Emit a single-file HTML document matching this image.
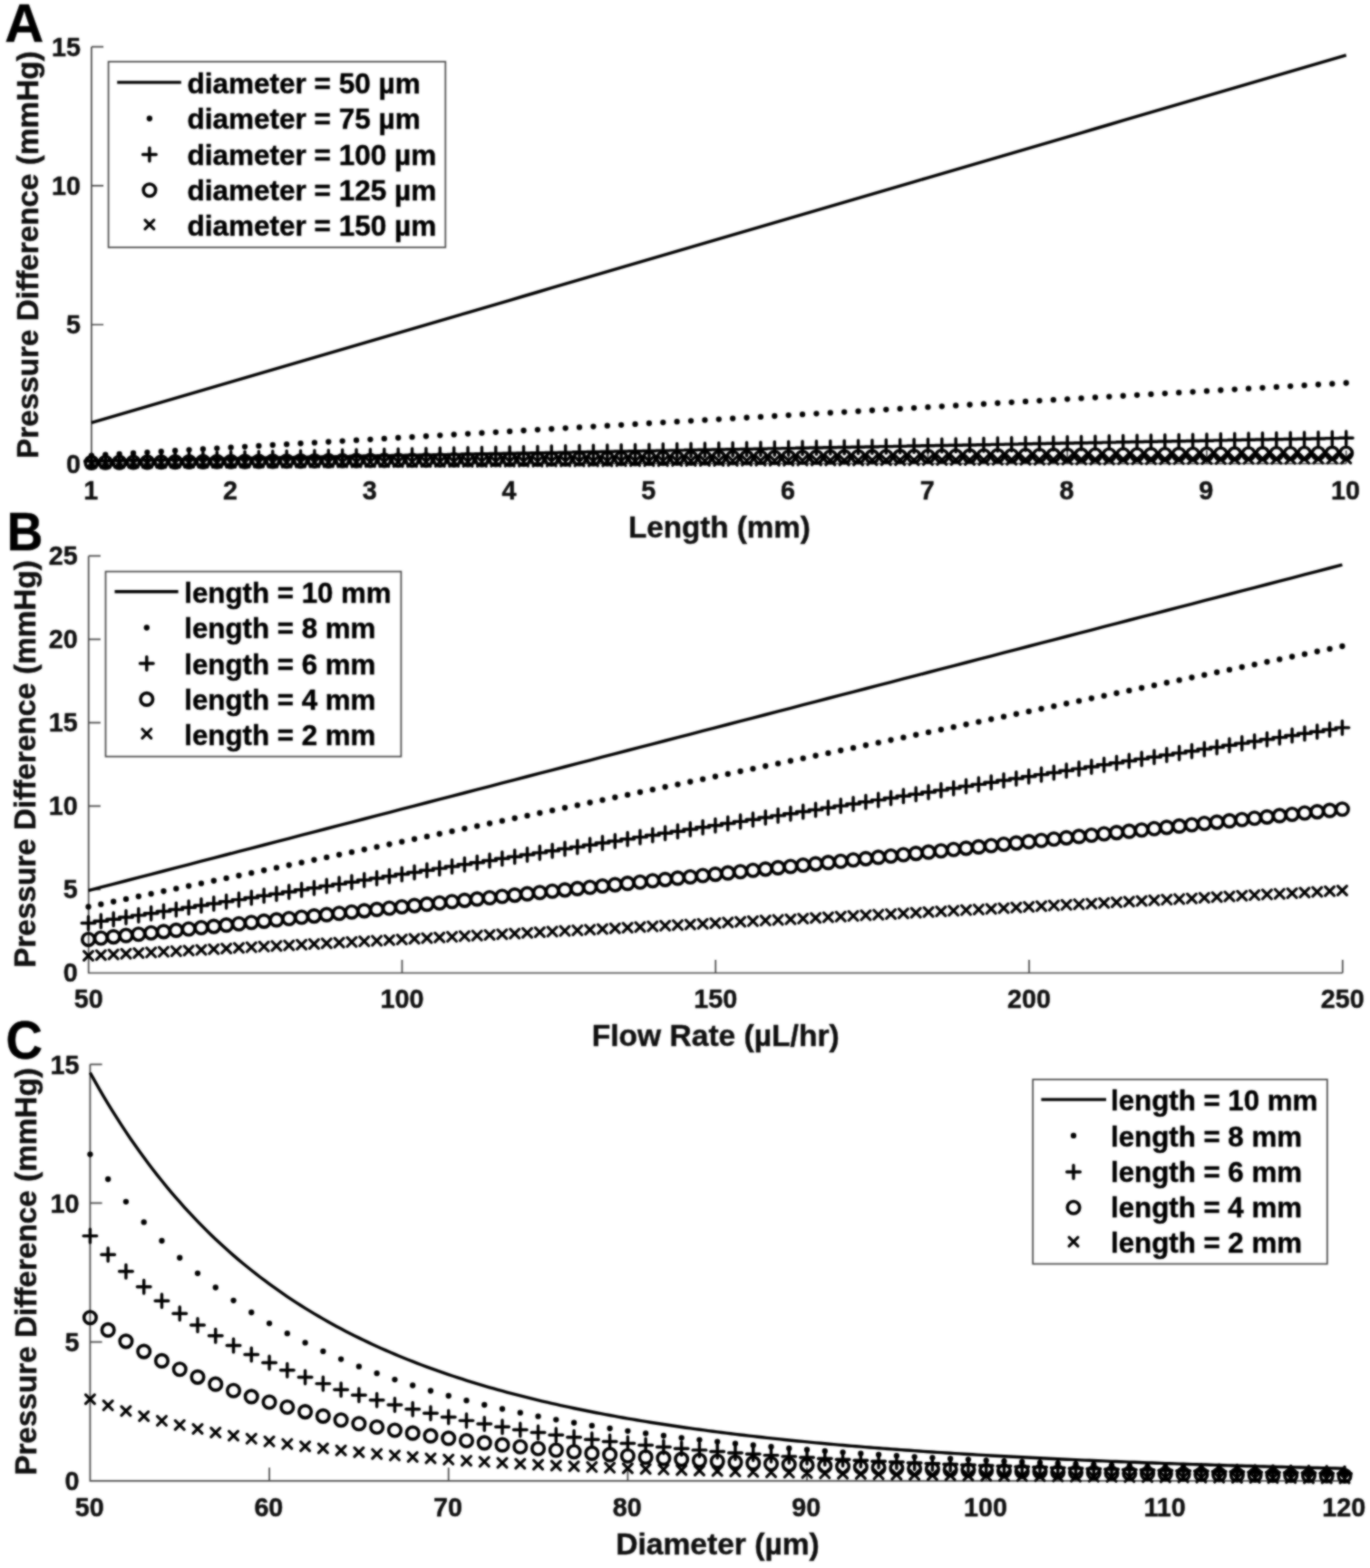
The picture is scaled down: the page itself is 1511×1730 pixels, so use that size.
<!DOCTYPE html>
<html lang="en"><head><meta charset="utf-8"><title>Pressure difference plots</title>
<style>
html,body{margin:0;padding:0;background:#fff}
svg{display:block}
text{font-family:"Liberation Sans",sans-serif;font-weight:bold;fill:#101010;stroke:#101010;stroke-width:0.45;stroke-linejoin:round}
text.k{fill:#000;stroke:#000}
</style></head><body>
<svg width="1511" height="1730" viewBox="0 0 1511 1730">
<defs><filter id="soft" x="0" y="0" width="1" height="1" filterUnits="objectBoundingBox" color-interpolation-filters="sRGB"><feGaussianBlur in="SourceGraphic" stdDeviation="0.85" result="b"/><feComposite in="SourceGraphic" in2="b" operator="arithmetic" k1="0" k2="0.2" k3="0.8" k4="0"/></filter></defs>
<g filter="url(#soft)">
<rect width="1511" height="1730" fill="#fff"/>
<path d="M100.9 51.7V511.5H1484.7M100.9 511.5h13.2M100.9 358.23h13.2M100.9 204.97h13.2M100.9 51.7h13.2M100.9 511.5v-14.5M254.66 511.5v-14.5M408.41 511.5v-14.5M562.17 511.5v-14.5M715.92 511.5v-14.5M869.68 511.5v-14.5M1023.43 511.5v-14.5M1177.19 511.5v-14.5M1330.94 511.5v-14.5M1484.7 511.5v-14.5" fill="none" stroke="#484848" stroke-width="1.7"/>
<text x="0" y="0" font-size="28.7" text-anchor="end" transform="translate(88.9 521.7) scale(1.0 1.03)">0</text>
<text x="0" y="0" font-size="28.7" text-anchor="end" transform="translate(88.9 368.43) scale(1.0 1.03)">5</text>
<text x="0" y="0" font-size="28.7" text-anchor="end" transform="translate(88.9 215.17) scale(1.0 1.03)">10</text>
<text x="0" y="0" font-size="28.7" text-anchor="end" transform="translate(88.9 61.9) scale(1.0 1.03)">15</text>
<text x="0" y="0" font-size="28.7" text-anchor="middle" transform="translate(100.1 551) scale(1.0 1.03)">1</text>
<text x="0" y="0" font-size="28.7" text-anchor="middle" transform="translate(253.86 551) scale(1.0 1.03)">2</text>
<text x="0" y="0" font-size="28.7" text-anchor="middle" transform="translate(407.61 551) scale(1.0 1.03)">3</text>
<text x="0" y="0" font-size="28.7" text-anchor="middle" transform="translate(561.37 551) scale(1.0 1.03)">4</text>
<text x="0" y="0" font-size="28.7" text-anchor="middle" transform="translate(715.12 551) scale(1.0 1.03)">5</text>
<text x="0" y="0" font-size="28.7" text-anchor="middle" transform="translate(868.88 551) scale(1.0 1.03)">6</text>
<text x="0" y="0" font-size="28.7" text-anchor="middle" transform="translate(1022.63 551) scale(1.0 1.03)">7</text>
<text x="0" y="0" font-size="28.7" text-anchor="middle" transform="translate(1176.39 551) scale(1.0 1.03)">8</text>
<text x="0" y="0" font-size="28.7" text-anchor="middle" transform="translate(1330.14 551) scale(1.0 1.03)">9</text>
<text x="0" y="0" font-size="28.7" text-anchor="middle" transform="translate(1483.9 551) scale(1.0 1.03)">10</text>
<text x="793.4" y="593.3" font-size="33.2" text-anchor="middle">Length (mm)</text>
<text x="0" y="0" font-size="33.3" text-anchor="middle" transform="translate(41.5 281.2) rotate(-90)">Pressure Difference (mmHg)</text>
<text x="5.3" y="46.3" font-size="59.5" text-anchor="start" class="k">A</text>
<path d="M100.9 466.44L116.28 461.93L131.65 457.43L147.03 452.92L162.4 448.42L177.78 443.91L193.15 439.4L208.53 434.9L223.9 430.39L239.28 425.89L254.66 421.38L270.03 416.87L285.41 412.37L300.78 407.86L316.16 403.36L331.53 398.85L346.91 394.34L362.28 389.84L377.66 385.33L393.04 380.82L408.41 376.32L423.79 371.81L439.16 367.31L454.54 362.8L469.91 358.29L485.29 353.79L500.66 349.28L516.04 344.78L531.42 340.27L546.79 335.76L562.17 331.26L577.54 326.75L592.92 322.25L608.29 317.74L623.67 313.23L639.04 308.73L654.42 304.22L669.8 299.72L685.17 295.21L700.55 290.7L715.92 286.2L731.3 281.69L746.67 277.19L762.05 272.68L777.42 268.17L792.8 263.67L808.18 259.16L823.55 254.66L838.93 250.15L854.3 245.64L869.68 241.14L885.05 236.63L900.43 232.13L915.8 227.62L931.18 223.11L946.56 218.61L961.93 214.1L977.31 209.6L992.68 205.09L1008.06 200.58L1023.43 196.08L1038.81 191.57L1054.18 187.07L1069.56 182.56L1084.94 178.05L1100.31 173.55L1115.69 169.04L1131.06 164.53L1146.44 160.03L1161.81 155.52L1177.19 151.02L1192.56 146.51L1207.94 142L1223.32 137.5L1238.69 132.99L1254.07 128.49L1269.44 123.98L1284.82 119.47L1300.19 114.97L1315.57 110.46L1330.94 105.96L1346.32 101.45L1361.7 96.94L1377.07 92.44L1392.45 87.93L1407.82 83.43L1423.2 78.92L1438.57 74.41L1453.95 69.91L1469.32 65.4L1484.7 60.9" fill="none" stroke="#000" stroke-width="3.4" stroke-linejoin="round"/>
<path d="M97.75 502.6a3.15 3.15 0 1 0 6.3 0a3.15 3.15 0 1 0 -6.3 0zM113.13 501.71a3.15 3.15 0 1 0 6.3 0a3.15 3.15 0 1 0 -6.3 0zM128.5 500.82a3.15 3.15 0 1 0 6.3 0a3.15 3.15 0 1 0 -6.3 0zM143.88 499.93a3.15 3.15 0 1 0 6.3 0a3.15 3.15 0 1 0 -6.3 0zM159.25 499.04a3.15 3.15 0 1 0 6.3 0a3.15 3.15 0 1 0 -6.3 0zM174.63 498.15a3.15 3.15 0 1 0 6.3 0a3.15 3.15 0 1 0 -6.3 0zM190 497.26a3.15 3.15 0 1 0 6.3 0a3.15 3.15 0 1 0 -6.3 0zM205.38 496.37a3.15 3.15 0 1 0 6.3 0a3.15 3.15 0 1 0 -6.3 0zM220.75 495.48a3.15 3.15 0 1 0 6.3 0a3.15 3.15 0 1 0 -6.3 0zM236.13 494.59a3.15 3.15 0 1 0 6.3 0a3.15 3.15 0 1 0 -6.3 0zM251.51 493.7a3.15 3.15 0 1 0 6.3 0a3.15 3.15 0 1 0 -6.3 0zM266.88 492.81a3.15 3.15 0 1 0 6.3 0a3.15 3.15 0 1 0 -6.3 0zM282.26 491.92a3.15 3.15 0 1 0 6.3 0a3.15 3.15 0 1 0 -6.3 0zM297.63 491.03a3.15 3.15 0 1 0 6.3 0a3.15 3.15 0 1 0 -6.3 0zM313.01 490.14a3.15 3.15 0 1 0 6.3 0a3.15 3.15 0 1 0 -6.3 0zM328.38 489.25a3.15 3.15 0 1 0 6.3 0a3.15 3.15 0 1 0 -6.3 0zM343.76 488.36a3.15 3.15 0 1 0 6.3 0a3.15 3.15 0 1 0 -6.3 0zM359.13 487.47a3.15 3.15 0 1 0 6.3 0a3.15 3.15 0 1 0 -6.3 0zM374.51 486.58a3.15 3.15 0 1 0 6.3 0a3.15 3.15 0 1 0 -6.3 0zM389.89 485.69a3.15 3.15 0 1 0 6.3 0a3.15 3.15 0 1 0 -6.3 0zM405.26 484.8a3.15 3.15 0 1 0 6.3 0a3.15 3.15 0 1 0 -6.3 0zM420.64 483.91a3.15 3.15 0 1 0 6.3 0a3.15 3.15 0 1 0 -6.3 0zM436.01 483.02a3.15 3.15 0 1 0 6.3 0a3.15 3.15 0 1 0 -6.3 0zM451.39 482.13a3.15 3.15 0 1 0 6.3 0a3.15 3.15 0 1 0 -6.3 0zM466.76 481.24a3.15 3.15 0 1 0 6.3 0a3.15 3.15 0 1 0 -6.3 0zM482.14 480.35a3.15 3.15 0 1 0 6.3 0a3.15 3.15 0 1 0 -6.3 0zM497.51 479.46a3.15 3.15 0 1 0 6.3 0a3.15 3.15 0 1 0 -6.3 0zM512.89 478.57a3.15 3.15 0 1 0 6.3 0a3.15 3.15 0 1 0 -6.3 0zM528.27 477.68a3.15 3.15 0 1 0 6.3 0a3.15 3.15 0 1 0 -6.3 0zM543.64 476.79a3.15 3.15 0 1 0 6.3 0a3.15 3.15 0 1 0 -6.3 0zM559.02 475.9a3.15 3.15 0 1 0 6.3 0a3.15 3.15 0 1 0 -6.3 0zM574.39 475.01a3.15 3.15 0 1 0 6.3 0a3.15 3.15 0 1 0 -6.3 0zM589.77 474.12a3.15 3.15 0 1 0 6.3 0a3.15 3.15 0 1 0 -6.3 0zM605.14 473.23a3.15 3.15 0 1 0 6.3 0a3.15 3.15 0 1 0 -6.3 0zM620.52 472.34a3.15 3.15 0 1 0 6.3 0a3.15 3.15 0 1 0 -6.3 0zM635.89 471.45a3.15 3.15 0 1 0 6.3 0a3.15 3.15 0 1 0 -6.3 0zM651.27 470.56a3.15 3.15 0 1 0 6.3 0a3.15 3.15 0 1 0 -6.3 0zM666.65 469.67a3.15 3.15 0 1 0 6.3 0a3.15 3.15 0 1 0 -6.3 0zM682.02 468.78a3.15 3.15 0 1 0 6.3 0a3.15 3.15 0 1 0 -6.3 0zM697.4 467.89a3.15 3.15 0 1 0 6.3 0a3.15 3.15 0 1 0 -6.3 0zM712.77 467a3.15 3.15 0 1 0 6.3 0a3.15 3.15 0 1 0 -6.3 0zM728.15 466.11a3.15 3.15 0 1 0 6.3 0a3.15 3.15 0 1 0 -6.3 0zM743.52 465.22a3.15 3.15 0 1 0 6.3 0a3.15 3.15 0 1 0 -6.3 0zM758.9 464.33a3.15 3.15 0 1 0 6.3 0a3.15 3.15 0 1 0 -6.3 0zM774.27 463.44a3.15 3.15 0 1 0 6.3 0a3.15 3.15 0 1 0 -6.3 0zM789.65 462.55a3.15 3.15 0 1 0 6.3 0a3.15 3.15 0 1 0 -6.3 0zM805.03 461.66a3.15 3.15 0 1 0 6.3 0a3.15 3.15 0 1 0 -6.3 0zM820.4 460.77a3.15 3.15 0 1 0 6.3 0a3.15 3.15 0 1 0 -6.3 0zM835.78 459.88a3.15 3.15 0 1 0 6.3 0a3.15 3.15 0 1 0 -6.3 0zM851.15 458.99a3.15 3.15 0 1 0 6.3 0a3.15 3.15 0 1 0 -6.3 0zM866.53 458.1a3.15 3.15 0 1 0 6.3 0a3.15 3.15 0 1 0 -6.3 0zM881.9 457.2a3.15 3.15 0 1 0 6.3 0a3.15 3.15 0 1 0 -6.3 0zM897.28 456.31a3.15 3.15 0 1 0 6.3 0a3.15 3.15 0 1 0 -6.3 0zM912.65 455.42a3.15 3.15 0 1 0 6.3 0a3.15 3.15 0 1 0 -6.3 0zM928.03 454.53a3.15 3.15 0 1 0 6.3 0a3.15 3.15 0 1 0 -6.3 0zM943.41 453.64a3.15 3.15 0 1 0 6.3 0a3.15 3.15 0 1 0 -6.3 0zM958.78 452.75a3.15 3.15 0 1 0 6.3 0a3.15 3.15 0 1 0 -6.3 0zM974.16 451.86a3.15 3.15 0 1 0 6.3 0a3.15 3.15 0 1 0 -6.3 0zM989.53 450.97a3.15 3.15 0 1 0 6.3 0a3.15 3.15 0 1 0 -6.3 0zM1004.91 450.08a3.15 3.15 0 1 0 6.3 0a3.15 3.15 0 1 0 -6.3 0zM1020.28 449.19a3.15 3.15 0 1 0 6.3 0a3.15 3.15 0 1 0 -6.3 0zM1035.66 448.3a3.15 3.15 0 1 0 6.3 0a3.15 3.15 0 1 0 -6.3 0zM1051.03 447.41a3.15 3.15 0 1 0 6.3 0a3.15 3.15 0 1 0 -6.3 0zM1066.41 446.52a3.15 3.15 0 1 0 6.3 0a3.15 3.15 0 1 0 -6.3 0zM1081.79 445.63a3.15 3.15 0 1 0 6.3 0a3.15 3.15 0 1 0 -6.3 0zM1097.16 444.74a3.15 3.15 0 1 0 6.3 0a3.15 3.15 0 1 0 -6.3 0zM1112.54 443.85a3.15 3.15 0 1 0 6.3 0a3.15 3.15 0 1 0 -6.3 0zM1127.91 442.96a3.15 3.15 0 1 0 6.3 0a3.15 3.15 0 1 0 -6.3 0zM1143.29 442.07a3.15 3.15 0 1 0 6.3 0a3.15 3.15 0 1 0 -6.3 0zM1158.66 441.18a3.15 3.15 0 1 0 6.3 0a3.15 3.15 0 1 0 -6.3 0zM1174.04 440.29a3.15 3.15 0 1 0 6.3 0a3.15 3.15 0 1 0 -6.3 0zM1189.41 439.4a3.15 3.15 0 1 0 6.3 0a3.15 3.15 0 1 0 -6.3 0zM1204.79 438.51a3.15 3.15 0 1 0 6.3 0a3.15 3.15 0 1 0 -6.3 0zM1220.17 437.62a3.15 3.15 0 1 0 6.3 0a3.15 3.15 0 1 0 -6.3 0zM1235.54 436.73a3.15 3.15 0 1 0 6.3 0a3.15 3.15 0 1 0 -6.3 0zM1250.92 435.84a3.15 3.15 0 1 0 6.3 0a3.15 3.15 0 1 0 -6.3 0zM1266.29 434.95a3.15 3.15 0 1 0 6.3 0a3.15 3.15 0 1 0 -6.3 0zM1281.67 434.06a3.15 3.15 0 1 0 6.3 0a3.15 3.15 0 1 0 -6.3 0zM1297.04 433.17a3.15 3.15 0 1 0 6.3 0a3.15 3.15 0 1 0 -6.3 0zM1312.42 432.28a3.15 3.15 0 1 0 6.3 0a3.15 3.15 0 1 0 -6.3 0zM1327.79 431.39a3.15 3.15 0 1 0 6.3 0a3.15 3.15 0 1 0 -6.3 0zM1343.17 430.5a3.15 3.15 0 1 0 6.3 0a3.15 3.15 0 1 0 -6.3 0zM1358.55 429.61a3.15 3.15 0 1 0 6.3 0a3.15 3.15 0 1 0 -6.3 0zM1373.92 428.72a3.15 3.15 0 1 0 6.3 0a3.15 3.15 0 1 0 -6.3 0zM1389.3 427.83a3.15 3.15 0 1 0 6.3 0a3.15 3.15 0 1 0 -6.3 0zM1404.67 426.94a3.15 3.15 0 1 0 6.3 0a3.15 3.15 0 1 0 -6.3 0zM1420.05 426.05a3.15 3.15 0 1 0 6.3 0a3.15 3.15 0 1 0 -6.3 0zM1435.42 425.16a3.15 3.15 0 1 0 6.3 0a3.15 3.15 0 1 0 -6.3 0zM1450.8 424.27a3.15 3.15 0 1 0 6.3 0a3.15 3.15 0 1 0 -6.3 0zM1466.17 423.38a3.15 3.15 0 1 0 6.3 0a3.15 3.15 0 1 0 -6.3 0zM1481.55 422.49a3.15 3.15 0 1 0 6.3 0a3.15 3.15 0 1 0 -6.3 0z" fill="#000"/>
<path d="M93.6 508.68h14.6M100.9 501.38v14.6M108.98 508.4h14.6M116.28 501.1v14.6M124.35 508.12h14.6M131.65 500.82v14.6M139.73 507.84h14.6M147.03 500.54v14.6M155.1 507.56h14.6M162.4 500.26v14.6M170.48 507.28h14.6M177.78 499.98v14.6M185.85 506.99h14.6M193.15 499.69v14.6M201.23 506.71h14.6M208.53 499.41v14.6M216.6 506.43h14.6M223.9 499.13v14.6M231.98 506.15h14.6M239.28 498.85v14.6M247.36 505.87h14.6M254.66 498.57v14.6M262.73 505.59h14.6M270.03 498.29v14.6M278.11 505.3h14.6M285.41 498v14.6M293.48 505.02h14.6M300.78 497.72v14.6M308.86 504.74h14.6M316.16 497.44v14.6M324.23 504.46h14.6M331.53 497.16v14.6M339.61 504.18h14.6M346.91 496.88v14.6M354.98 503.9h14.6M362.28 496.6v14.6M370.36 503.61h14.6M377.66 496.31v14.6M385.74 503.33h14.6M393.04 496.03v14.6M401.11 503.05h14.6M408.41 495.75v14.6M416.49 502.77h14.6M423.79 495.47v14.6M431.86 502.49h14.6M439.16 495.19v14.6M447.24 502.21h14.6M454.54 494.91v14.6M462.61 501.92h14.6M469.91 494.62v14.6M477.99 501.64h14.6M485.29 494.34v14.6M493.36 501.36h14.6M500.66 494.06v14.6M508.74 501.08h14.6M516.04 493.78v14.6M524.12 500.8h14.6M531.42 493.5v14.6M539.49 500.52h14.6M546.79 493.22v14.6M554.87 500.23h14.6M562.17 492.93v14.6M570.24 499.95h14.6M577.54 492.65v14.6M585.62 499.67h14.6M592.92 492.37v14.6M600.99 499.39h14.6M608.29 492.09v14.6M616.37 499.11h14.6M623.67 491.81v14.6M631.74 498.83h14.6M639.04 491.53v14.6M647.12 498.55h14.6M654.42 491.25v14.6M662.5 498.26h14.6M669.8 490.96v14.6M677.87 497.98h14.6M685.17 490.68v14.6M693.25 497.7h14.6M700.55 490.4v14.6M708.62 497.42h14.6M715.92 490.12v14.6M724 497.14h14.6M731.3 489.84v14.6M739.37 496.86h14.6M746.67 489.56v14.6M754.75 496.57h14.6M762.05 489.27v14.6M770.12 496.29h14.6M777.42 488.99v14.6M785.5 496.01h14.6M792.8 488.71v14.6M800.88 495.73h14.6M808.18 488.43v14.6M816.25 495.45h14.6M823.55 488.15v14.6M831.63 495.17h14.6M838.93 487.87v14.6M847 494.88h14.6M854.3 487.58v14.6M862.38 494.6h14.6M869.68 487.3v14.6M877.75 494.32h14.6M885.05 487.02v14.6M893.13 494.04h14.6M900.43 486.74v14.6M908.5 493.76h14.6M915.8 486.46v14.6M923.88 493.48h14.6M931.18 486.18v14.6M939.26 493.19h14.6M946.56 485.89v14.6M954.63 492.91h14.6M961.93 485.61v14.6M970.01 492.63h14.6M977.31 485.33v14.6M985.38 492.35h14.6M992.68 485.05v14.6M1000.76 492.07h14.6M1008.06 484.77v14.6M1016.13 491.79h14.6M1023.43 484.49v14.6M1031.51 491.5h14.6M1038.81 484.2v14.6M1046.88 491.22h14.6M1054.18 483.92v14.6M1062.26 490.94h14.6M1069.56 483.64v14.6M1077.64 490.66h14.6M1084.94 483.36v14.6M1093.01 490.38h14.6M1100.31 483.08v14.6M1108.39 490.1h14.6M1115.69 482.8v14.6M1123.76 489.81h14.6M1131.06 482.51v14.6M1139.14 489.53h14.6M1146.44 482.23v14.6M1154.51 489.25h14.6M1161.81 481.95v14.6M1169.89 488.97h14.6M1177.19 481.67v14.6M1185.26 488.69h14.6M1192.56 481.39v14.6M1200.64 488.41h14.6M1207.94 481.11v14.6M1216.02 488.12h14.6M1223.32 480.82v14.6M1231.39 487.84h14.6M1238.69 480.54v14.6M1246.77 487.56h14.6M1254.07 480.26v14.6M1262.14 487.28h14.6M1269.44 479.98v14.6M1277.52 487h14.6M1284.82 479.7v14.6M1292.89 486.72h14.6M1300.19 479.42v14.6M1308.27 486.44h14.6M1315.57 479.14v14.6M1323.64 486.15h14.6M1330.94 478.85v14.6M1339.02 485.87h14.6M1346.32 478.57v14.6M1354.4 485.59h14.6M1361.7 478.29v14.6M1369.77 485.31h14.6M1377.07 478.01v14.6M1385.15 485.03h14.6M1392.45 477.73v14.6M1400.52 484.75h14.6M1407.82 477.45v14.6M1415.9 484.46h14.6M1423.2 477.16v14.6M1431.27 484.18h14.6M1438.57 476.88v14.6M1446.65 483.9h14.6M1453.95 476.6v14.6M1462.02 483.62h14.6M1469.32 476.32v14.6M1477.4 483.34h14.6M1484.7 476.04v14.6" fill="none" stroke="#000" stroke-width="3.45" stroke-linecap="round"/>
<path d="M94.15 510.35a6.75 6.75 0 1 0 13.5 0a6.75 6.75 0 1 0 -13.5 0zM109.53 510.23a6.75 6.75 0 1 0 13.5 0a6.75 6.75 0 1 0 -13.5 0zM124.9 510.12a6.75 6.75 0 1 0 13.5 0a6.75 6.75 0 1 0 -13.5 0zM140.28 510a6.75 6.75 0 1 0 13.5 0a6.75 6.75 0 1 0 -13.5 0zM155.65 509.89a6.75 6.75 0 1 0 13.5 0a6.75 6.75 0 1 0 -13.5 0zM171.03 509.77a6.75 6.75 0 1 0 13.5 0a6.75 6.75 0 1 0 -13.5 0zM186.4 509.65a6.75 6.75 0 1 0 13.5 0a6.75 6.75 0 1 0 -13.5 0zM201.78 509.54a6.75 6.75 0 1 0 13.5 0a6.75 6.75 0 1 0 -13.5 0zM217.15 509.42a6.75 6.75 0 1 0 13.5 0a6.75 6.75 0 1 0 -13.5 0zM232.53 509.31a6.75 6.75 0 1 0 13.5 0a6.75 6.75 0 1 0 -13.5 0zM247.91 509.19a6.75 6.75 0 1 0 13.5 0a6.75 6.75 0 1 0 -13.5 0zM263.28 509.08a6.75 6.75 0 1 0 13.5 0a6.75 6.75 0 1 0 -13.5 0zM278.66 508.96a6.75 6.75 0 1 0 13.5 0a6.75 6.75 0 1 0 -13.5 0zM294.03 508.85a6.75 6.75 0 1 0 13.5 0a6.75 6.75 0 1 0 -13.5 0zM309.41 508.73a6.75 6.75 0 1 0 13.5 0a6.75 6.75 0 1 0 -13.5 0zM324.78 508.62a6.75 6.75 0 1 0 13.5 0a6.75 6.75 0 1 0 -13.5 0zM340.16 508.5a6.75 6.75 0 1 0 13.5 0a6.75 6.75 0 1 0 -13.5 0zM355.53 508.39a6.75 6.75 0 1 0 13.5 0a6.75 6.75 0 1 0 -13.5 0zM370.91 508.27a6.75 6.75 0 1 0 13.5 0a6.75 6.75 0 1 0 -13.5 0zM386.29 508.15a6.75 6.75 0 1 0 13.5 0a6.75 6.75 0 1 0 -13.5 0zM401.66 508.04a6.75 6.75 0 1 0 13.5 0a6.75 6.75 0 1 0 -13.5 0zM417.04 507.92a6.75 6.75 0 1 0 13.5 0a6.75 6.75 0 1 0 -13.5 0zM432.41 507.81a6.75 6.75 0 1 0 13.5 0a6.75 6.75 0 1 0 -13.5 0zM447.79 507.69a6.75 6.75 0 1 0 13.5 0a6.75 6.75 0 1 0 -13.5 0zM463.16 507.58a6.75 6.75 0 1 0 13.5 0a6.75 6.75 0 1 0 -13.5 0zM478.54 507.46a6.75 6.75 0 1 0 13.5 0a6.75 6.75 0 1 0 -13.5 0zM493.91 507.35a6.75 6.75 0 1 0 13.5 0a6.75 6.75 0 1 0 -13.5 0zM509.29 507.23a6.75 6.75 0 1 0 13.5 0a6.75 6.75 0 1 0 -13.5 0zM524.67 507.12a6.75 6.75 0 1 0 13.5 0a6.75 6.75 0 1 0 -13.5 0zM540.04 507a6.75 6.75 0 1 0 13.5 0a6.75 6.75 0 1 0 -13.5 0zM555.42 506.89a6.75 6.75 0 1 0 13.5 0a6.75 6.75 0 1 0 -13.5 0zM570.79 506.77a6.75 6.75 0 1 0 13.5 0a6.75 6.75 0 1 0 -13.5 0zM586.17 506.66a6.75 6.75 0 1 0 13.5 0a6.75 6.75 0 1 0 -13.5 0zM601.54 506.54a6.75 6.75 0 1 0 13.5 0a6.75 6.75 0 1 0 -13.5 0zM616.92 506.42a6.75 6.75 0 1 0 13.5 0a6.75 6.75 0 1 0 -13.5 0zM632.29 506.31a6.75 6.75 0 1 0 13.5 0a6.75 6.75 0 1 0 -13.5 0zM647.67 506.19a6.75 6.75 0 1 0 13.5 0a6.75 6.75 0 1 0 -13.5 0zM663.05 506.08a6.75 6.75 0 1 0 13.5 0a6.75 6.75 0 1 0 -13.5 0zM678.42 505.96a6.75 6.75 0 1 0 13.5 0a6.75 6.75 0 1 0 -13.5 0zM693.8 505.85a6.75 6.75 0 1 0 13.5 0a6.75 6.75 0 1 0 -13.5 0zM709.17 505.73a6.75 6.75 0 1 0 13.5 0a6.75 6.75 0 1 0 -13.5 0zM724.55 505.62a6.75 6.75 0 1 0 13.5 0a6.75 6.75 0 1 0 -13.5 0zM739.92 505.5a6.75 6.75 0 1 0 13.5 0a6.75 6.75 0 1 0 -13.5 0zM755.3 505.39a6.75 6.75 0 1 0 13.5 0a6.75 6.75 0 1 0 -13.5 0zM770.67 505.27a6.75 6.75 0 1 0 13.5 0a6.75 6.75 0 1 0 -13.5 0zM786.05 505.16a6.75 6.75 0 1 0 13.5 0a6.75 6.75 0 1 0 -13.5 0zM801.43 505.04a6.75 6.75 0 1 0 13.5 0a6.75 6.75 0 1 0 -13.5 0zM816.8 504.92a6.75 6.75 0 1 0 13.5 0a6.75 6.75 0 1 0 -13.5 0zM832.18 504.81a6.75 6.75 0 1 0 13.5 0a6.75 6.75 0 1 0 -13.5 0zM847.55 504.69a6.75 6.75 0 1 0 13.5 0a6.75 6.75 0 1 0 -13.5 0zM862.93 504.58a6.75 6.75 0 1 0 13.5 0a6.75 6.75 0 1 0 -13.5 0zM878.3 504.46a6.75 6.75 0 1 0 13.5 0a6.75 6.75 0 1 0 -13.5 0zM893.68 504.35a6.75 6.75 0 1 0 13.5 0a6.75 6.75 0 1 0 -13.5 0zM909.05 504.23a6.75 6.75 0 1 0 13.5 0a6.75 6.75 0 1 0 -13.5 0zM924.43 504.12a6.75 6.75 0 1 0 13.5 0a6.75 6.75 0 1 0 -13.5 0zM939.81 504a6.75 6.75 0 1 0 13.5 0a6.75 6.75 0 1 0 -13.5 0zM955.18 503.89a6.75 6.75 0 1 0 13.5 0a6.75 6.75 0 1 0 -13.5 0zM970.56 503.77a6.75 6.75 0 1 0 13.5 0a6.75 6.75 0 1 0 -13.5 0zM985.93 503.66a6.75 6.75 0 1 0 13.5 0a6.75 6.75 0 1 0 -13.5 0zM1001.31 503.54a6.75 6.75 0 1 0 13.5 0a6.75 6.75 0 1 0 -13.5 0zM1016.68 503.43a6.75 6.75 0 1 0 13.5 0a6.75 6.75 0 1 0 -13.5 0zM1032.06 503.31a6.75 6.75 0 1 0 13.5 0a6.75 6.75 0 1 0 -13.5 0zM1047.43 503.19a6.75 6.75 0 1 0 13.5 0a6.75 6.75 0 1 0 -13.5 0zM1062.81 503.08a6.75 6.75 0 1 0 13.5 0a6.75 6.75 0 1 0 -13.5 0zM1078.19 502.96a6.75 6.75 0 1 0 13.5 0a6.75 6.75 0 1 0 -13.5 0zM1093.56 502.85a6.75 6.75 0 1 0 13.5 0a6.75 6.75 0 1 0 -13.5 0zM1108.94 502.73a6.75 6.75 0 1 0 13.5 0a6.75 6.75 0 1 0 -13.5 0zM1124.31 502.62a6.75 6.75 0 1 0 13.5 0a6.75 6.75 0 1 0 -13.5 0zM1139.69 502.5a6.75 6.75 0 1 0 13.5 0a6.75 6.75 0 1 0 -13.5 0zM1155.06 502.39a6.75 6.75 0 1 0 13.5 0a6.75 6.75 0 1 0 -13.5 0zM1170.44 502.27a6.75 6.75 0 1 0 13.5 0a6.75 6.75 0 1 0 -13.5 0zM1185.81 502.16a6.75 6.75 0 1 0 13.5 0a6.75 6.75 0 1 0 -13.5 0zM1201.19 502.04a6.75 6.75 0 1 0 13.5 0a6.75 6.75 0 1 0 -13.5 0zM1216.57 501.93a6.75 6.75 0 1 0 13.5 0a6.75 6.75 0 1 0 -13.5 0zM1231.94 501.81a6.75 6.75 0 1 0 13.5 0a6.75 6.75 0 1 0 -13.5 0zM1247.32 501.69a6.75 6.75 0 1 0 13.5 0a6.75 6.75 0 1 0 -13.5 0zM1262.69 501.58a6.75 6.75 0 1 0 13.5 0a6.75 6.75 0 1 0 -13.5 0zM1278.07 501.46a6.75 6.75 0 1 0 13.5 0a6.75 6.75 0 1 0 -13.5 0zM1293.44 501.35a6.75 6.75 0 1 0 13.5 0a6.75 6.75 0 1 0 -13.5 0zM1308.82 501.23a6.75 6.75 0 1 0 13.5 0a6.75 6.75 0 1 0 -13.5 0zM1324.19 501.12a6.75 6.75 0 1 0 13.5 0a6.75 6.75 0 1 0 -13.5 0zM1339.57 501a6.75 6.75 0 1 0 13.5 0a6.75 6.75 0 1 0 -13.5 0zM1354.95 500.89a6.75 6.75 0 1 0 13.5 0a6.75 6.75 0 1 0 -13.5 0zM1370.32 500.77a6.75 6.75 0 1 0 13.5 0a6.75 6.75 0 1 0 -13.5 0zM1385.7 500.66a6.75 6.75 0 1 0 13.5 0a6.75 6.75 0 1 0 -13.5 0zM1401.07 500.54a6.75 6.75 0 1 0 13.5 0a6.75 6.75 0 1 0 -13.5 0zM1416.45 500.43a6.75 6.75 0 1 0 13.5 0a6.75 6.75 0 1 0 -13.5 0zM1431.82 500.31a6.75 6.75 0 1 0 13.5 0a6.75 6.75 0 1 0 -13.5 0zM1447.2 500.2a6.75 6.75 0 1 0 13.5 0a6.75 6.75 0 1 0 -13.5 0zM1462.57 500.08a6.75 6.75 0 1 0 13.5 0a6.75 6.75 0 1 0 -13.5 0zM1477.95 499.96a6.75 6.75 0 1 0 13.5 0a6.75 6.75 0 1 0 -13.5 0z" fill="none" stroke="#000" stroke-width="3.6"/>
<path d="M96 506.04l9.8 9.8M96 515.84l9.8 -9.8M111.38 505.99l9.8 9.8M111.38 515.79l9.8 -9.8M126.75 505.93l9.8 9.8M126.75 515.73l9.8 -9.8M142.13 505.88l9.8 9.8M142.13 515.68l9.8 -9.8M157.5 505.82l9.8 9.8M157.5 515.62l9.8 -9.8M172.88 505.77l9.8 9.8M172.88 515.57l9.8 -9.8M188.25 505.71l9.8 9.8M188.25 515.51l9.8 -9.8M203.63 505.65l9.8 9.8M203.63 515.45l9.8 -9.8M219 505.6l9.8 9.8M219 515.4l9.8 -9.8M234.38 505.54l9.8 9.8M234.38 515.34l9.8 -9.8M249.76 505.49l9.8 9.8M249.76 515.29l9.8 -9.8M265.13 505.43l9.8 9.8M265.13 515.23l9.8 -9.8M280.51 505.38l9.8 9.8M280.51 515.18l9.8 -9.8M295.88 505.32l9.8 9.8M295.88 515.12l9.8 -9.8M311.26 505.26l9.8 9.8M311.26 515.06l9.8 -9.8M326.63 505.21l9.8 9.8M326.63 515.01l9.8 -9.8M342.01 505.15l9.8 9.8M342.01 514.95l9.8 -9.8M357.38 505.1l9.8 9.8M357.38 514.9l9.8 -9.8M372.76 505.04l9.8 9.8M372.76 514.84l9.8 -9.8M388.14 504.99l9.8 9.8M388.14 514.79l9.8 -9.8M403.51 504.93l9.8 9.8M403.51 514.73l9.8 -9.8M418.89 504.88l9.8 9.8M418.89 514.68l9.8 -9.8M434.26 504.82l9.8 9.8M434.26 514.62l9.8 -9.8M449.64 504.76l9.8 9.8M449.64 514.56l9.8 -9.8M465.01 504.71l9.8 9.8M465.01 514.51l9.8 -9.8M480.39 504.65l9.8 9.8M480.39 514.45l9.8 -9.8M495.76 504.6l9.8 9.8M495.76 514.4l9.8 -9.8M511.14 504.54l9.8 9.8M511.14 514.34l9.8 -9.8M526.52 504.49l9.8 9.8M526.52 514.29l9.8 -9.8M541.89 504.43l9.8 9.8M541.89 514.23l9.8 -9.8M557.27 504.37l9.8 9.8M557.27 514.17l9.8 -9.8M572.64 504.32l9.8 9.8M572.64 514.12l9.8 -9.8M588.02 504.26l9.8 9.8M588.02 514.06l9.8 -9.8M603.39 504.21l9.8 9.8M603.39 514.01l9.8 -9.8M618.77 504.15l9.8 9.8M618.77 513.95l9.8 -9.8M634.14 504.1l9.8 9.8M634.14 513.9l9.8 -9.8M649.52 504.04l9.8 9.8M649.52 513.84l9.8 -9.8M664.9 503.99l9.8 9.8M664.9 513.79l9.8 -9.8M680.27 503.93l9.8 9.8M680.27 513.73l9.8 -9.8M695.65 503.87l9.8 9.8M695.65 513.67l9.8 -9.8M711.02 503.82l9.8 9.8M711.02 513.62l9.8 -9.8M726.4 503.76l9.8 9.8M726.4 513.56l9.8 -9.8M741.77 503.71l9.8 9.8M741.77 513.51l9.8 -9.8M757.15 503.65l9.8 9.8M757.15 513.45l9.8 -9.8M772.52 503.6l9.8 9.8M772.52 513.4l9.8 -9.8M787.9 503.54l9.8 9.8M787.9 513.34l9.8 -9.8M803.28 503.48l9.8 9.8M803.28 513.28l9.8 -9.8M818.65 503.43l9.8 9.8M818.65 513.23l9.8 -9.8M834.03 503.37l9.8 9.8M834.03 513.17l9.8 -9.8M849.4 503.32l9.8 9.8M849.4 513.12l9.8 -9.8M864.78 503.26l9.8 9.8M864.78 513.06l9.8 -9.8M880.15 503.21l9.8 9.8M880.15 513.01l9.8 -9.8M895.53 503.15l9.8 9.8M895.53 512.95l9.8 -9.8M910.9 503.1l9.8 9.8M910.9 512.9l9.8 -9.8M926.28 503.04l9.8 9.8M926.28 512.84l9.8 -9.8M941.66 502.98l9.8 9.8M941.66 512.78l9.8 -9.8M957.03 502.93l9.8 9.8M957.03 512.73l9.8 -9.8M972.41 502.87l9.8 9.8M972.41 512.67l9.8 -9.8M987.78 502.82l9.8 9.8M987.78 512.62l9.8 -9.8M1003.16 502.76l9.8 9.8M1003.16 512.56l9.8 -9.8M1018.53 502.71l9.8 9.8M1018.53 512.51l9.8 -9.8M1033.91 502.65l9.8 9.8M1033.91 512.45l9.8 -9.8M1049.28 502.59l9.8 9.8M1049.28 512.39l9.8 -9.8M1064.66 502.54l9.8 9.8M1064.66 512.34l9.8 -9.8M1080.04 502.48l9.8 9.8M1080.04 512.28l9.8 -9.8M1095.41 502.43l9.8 9.8M1095.41 512.23l9.8 -9.8M1110.79 502.37l9.8 9.8M1110.79 512.17l9.8 -9.8M1126.16 502.32l9.8 9.8M1126.16 512.12l9.8 -9.8M1141.54 502.26l9.8 9.8M1141.54 512.06l9.8 -9.8M1156.91 502.21l9.8 9.8M1156.91 512.01l9.8 -9.8M1172.29 502.15l9.8 9.8M1172.29 511.95l9.8 -9.8M1187.66 502.09l9.8 9.8M1187.66 511.89l9.8 -9.8M1203.04 502.04l9.8 9.8M1203.04 511.84l9.8 -9.8M1218.42 501.98l9.8 9.8M1218.42 511.78l9.8 -9.8M1233.79 501.93l9.8 9.8M1233.79 511.73l9.8 -9.8M1249.17 501.87l9.8 9.8M1249.17 511.67l9.8 -9.8M1264.54 501.82l9.8 9.8M1264.54 511.62l9.8 -9.8M1279.92 501.76l9.8 9.8M1279.92 511.56l9.8 -9.8M1295.29 501.7l9.8 9.8M1295.29 511.5l9.8 -9.8M1310.67 501.65l9.8 9.8M1310.67 511.45l9.8 -9.8M1326.04 501.59l9.8 9.8M1326.04 511.39l9.8 -9.8M1341.42 501.54l9.8 9.8M1341.42 511.34l9.8 -9.8M1356.8 501.48l9.8 9.8M1356.8 511.28l9.8 -9.8M1372.17 501.43l9.8 9.8M1372.17 511.23l9.8 -9.8M1387.55 501.37l9.8 9.8M1387.55 511.17l9.8 -9.8M1402.92 501.32l9.8 9.8M1402.92 511.12l9.8 -9.8M1418.3 501.26l9.8 9.8M1418.3 511.06l9.8 -9.8M1433.67 501.2l9.8 9.8M1433.67 511l9.8 -9.8M1449.05 501.15l9.8 9.8M1449.05 510.95l9.8 -9.8M1464.42 501.09l9.8 9.8M1464.42 510.89l9.8 -9.8M1479.8 501.04l9.8 9.8M1479.8 510.84l9.8 -9.8" fill="none" stroke="#000" stroke-width="3.1" stroke-linecap="round"/>
<rect x="119.6" y="68.1" width="371.7" height="204.8" fill="#fff" stroke="#484848" stroke-width="1.7"/>
<path d="M129.2 90.85L199.8 90.85" fill="none" stroke="#000" stroke-width="3.4" stroke-linejoin="round"/>
<text x="206.5" y="103" font-size="31.5" text-anchor="start" class="k">diameter = 50 µm</text>
<path d="M161.75 130.75a3.15 3.15 0 1 0 6.3 0a3.15 3.15 0 1 0 -6.3 0z" fill="#000"/>
<text x="206.5" y="142.3" font-size="31.5" text-anchor="start" class="k">diameter = 75 µm</text>
<path d="M157.6 170.5h14.6M164.9 163.2v14.6" fill="none" stroke="#000" stroke-width="3.45" stroke-linecap="round"/>
<text x="206.5" y="181.6" font-size="31.5" text-anchor="start" class="k">diameter = 100 µm</text>
<path d="M158.15 209.8a6.75 6.75 0 1 0 13.5 0a6.75 6.75 0 1 0 -13.5 0z" fill="none" stroke="#000" stroke-width="3.6"/>
<text x="206.5" y="220.9" font-size="31.5" text-anchor="start" class="k">diameter = 125 µm</text>
<path d="M160 242.8l9.8 9.8M160 252.6l9.8 -9.8" fill="none" stroke="#000" stroke-width="3.1" stroke-linecap="round"/>
<text x="206.5" y="260.2" font-size="31.5" text-anchor="start" class="k">diameter = 150 µm</text>
<path d="M97.7 613.4V1073.5H1480.8M97.7 1073.5h13.2M97.7 981.48h13.2M97.7 889.46h13.2M97.7 797.44h13.2M97.7 705.42h13.2M97.7 613.4h13.2M97.7 1073.5v-14.5M443.47 1073.5v-14.5M789.25 1073.5v-14.5M1135.02 1073.5v-14.5M1480.8 1073.5v-14.5" fill="none" stroke="#484848" stroke-width="1.7"/>
<text x="0" y="0" font-size="28.7" text-anchor="end" transform="translate(85.7 1083.3) scale(1.0 1.03)">0</text>
<text x="0" y="0" font-size="28.7" text-anchor="end" transform="translate(85.7 991.28) scale(1.0 1.03)">5</text>
<text x="0" y="0" font-size="28.7" text-anchor="end" transform="translate(85.7 899.26) scale(1.0 1.03)">10</text>
<text x="0" y="0" font-size="28.7" text-anchor="end" transform="translate(85.7 807.24) scale(1.0 1.03)">15</text>
<text x="0" y="0" font-size="28.7" text-anchor="end" transform="translate(85.7 715.22) scale(1.0 1.03)">20</text>
<text x="0" y="0" font-size="28.7" text-anchor="end" transform="translate(85.7 623.2) scale(1.0 1.03)">25</text>
<text x="0" y="0" font-size="28.7" text-anchor="middle" transform="translate(97.7 1112.2) scale(1.0 1.03)">50</text>
<text x="0" y="0" font-size="28.7" text-anchor="middle" transform="translate(443.47 1112.2) scale(1.0 1.03)">100</text>
<text x="0" y="0" font-size="28.7" text-anchor="middle" transform="translate(789.25 1112.2) scale(1.0 1.03)">150</text>
<text x="0" y="0" font-size="28.7" text-anchor="middle" transform="translate(1135.02 1112.2) scale(1.0 1.03)">200</text>
<text x="0" y="0" font-size="28.7" text-anchor="middle" transform="translate(1480.8 1112.2) scale(1.0 1.03)">250</text>
<text x="789.2" y="1154.3" font-size="33.6" text-anchor="middle">Flow Rate (µL/hr)</text>
<text x="0" y="0" font-size="33.3" text-anchor="middle" transform="translate(38.5 843) rotate(-90)">Pressure Difference (mmHg)</text>
<text x="0" y="0" font-size="59.5" text-anchor="start" transform="translate(7.5 607) scale(0.93 1.0)" class="k">B</text>
<path d="M97.5 982.55L111.33 978.96L125.16 975.37L138.99 971.77L152.82 968.18L166.65 964.58L180.47 960.99L194.3 957.4L208.13 953.8L221.96 950.21L235.79 946.62L249.62 943.02L263.45 939.43L277.28 935.83L291.11 932.24L304.94 928.65L318.76 925.05L332.59 921.46L346.42 917.86L360.25 914.27L374.08 910.68L387.91 907.08L401.74 903.49L415.57 899.89L429.4 896.3L443.23 892.71L457.05 889.11L470.88 885.52L484.71 881.93L498.54 878.33L512.37 874.74L526.2 871.14L540.03 867.55L553.86 863.96L567.69 860.36L581.51 856.77L595.34 853.17L609.17 849.58L623 845.99L636.83 842.39L650.66 838.8L664.49 835.21L678.32 831.61L692.15 828.02L705.98 824.42L719.81 820.83L733.63 817.24L747.46 813.64L761.29 810.05L775.12 806.45L788.95 802.86L802.78 799.27L816.61 795.67L830.44 792.08L844.27 788.49L858.1 784.89L871.92 781.3L885.75 777.7L899.58 774.11L913.41 770.52L927.24 766.92L941.07 763.33L954.9 759.73L968.73 756.14L982.56 752.55L996.39 748.95L1010.21 745.36L1024.04 741.77L1037.87 738.17L1051.7 734.58L1065.53 730.98L1079.36 727.39L1093.19 723.8L1107.02 720.2L1120.85 716.61L1134.68 713.01L1148.5 709.42L1162.33 705.83L1176.16 702.23L1189.99 698.64L1203.82 695.05L1217.65 691.45L1231.48 687.86L1245.31 684.26L1259.14 680.67L1272.97 677.08L1286.79 673.48L1300.62 669.89L1314.45 666.29L1328.28 662.7L1342.11 659.11L1355.94 655.51L1369.77 651.92L1383.6 648.32L1397.43 644.73L1411.26 641.14L1425.08 637.54L1438.91 633.95L1452.74 630.36L1466.57 626.76L1480.4 623.17" fill="none" stroke="#000" stroke-width="3.4" stroke-linejoin="round"/>
<path d="M94.35 1000.52a3.15 3.15 0 1 0 6.3 0a3.15 3.15 0 1 0 -6.3 0zM108.18 997.65a3.15 3.15 0 1 0 6.3 0a3.15 3.15 0 1 0 -6.3 0zM122.01 994.77a3.15 3.15 0 1 0 6.3 0a3.15 3.15 0 1 0 -6.3 0zM135.84 991.9a3.15 3.15 0 1 0 6.3 0a3.15 3.15 0 1 0 -6.3 0zM149.67 989.02a3.15 3.15 0 1 0 6.3 0a3.15 3.15 0 1 0 -6.3 0zM163.5 986.15a3.15 3.15 0 1 0 6.3 0a3.15 3.15 0 1 0 -6.3 0zM177.32 983.27a3.15 3.15 0 1 0 6.3 0a3.15 3.15 0 1 0 -6.3 0zM191.15 980.4a3.15 3.15 0 1 0 6.3 0a3.15 3.15 0 1 0 -6.3 0zM204.98 977.52a3.15 3.15 0 1 0 6.3 0a3.15 3.15 0 1 0 -6.3 0zM218.81 974.65a3.15 3.15 0 1 0 6.3 0a3.15 3.15 0 1 0 -6.3 0zM232.64 971.77a3.15 3.15 0 1 0 6.3 0a3.15 3.15 0 1 0 -6.3 0zM246.47 968.9a3.15 3.15 0 1 0 6.3 0a3.15 3.15 0 1 0 -6.3 0zM260.3 966.02a3.15 3.15 0 1 0 6.3 0a3.15 3.15 0 1 0 -6.3 0zM274.13 963.15a3.15 3.15 0 1 0 6.3 0a3.15 3.15 0 1 0 -6.3 0zM287.96 960.27a3.15 3.15 0 1 0 6.3 0a3.15 3.15 0 1 0 -6.3 0zM301.79 957.4a3.15 3.15 0 1 0 6.3 0a3.15 3.15 0 1 0 -6.3 0zM315.61 954.52a3.15 3.15 0 1 0 6.3 0a3.15 3.15 0 1 0 -6.3 0zM329.44 951.65a3.15 3.15 0 1 0 6.3 0a3.15 3.15 0 1 0 -6.3 0zM343.27 948.77a3.15 3.15 0 1 0 6.3 0a3.15 3.15 0 1 0 -6.3 0zM357.1 945.9a3.15 3.15 0 1 0 6.3 0a3.15 3.15 0 1 0 -6.3 0zM370.93 943.02a3.15 3.15 0 1 0 6.3 0a3.15 3.15 0 1 0 -6.3 0zM384.76 940.15a3.15 3.15 0 1 0 6.3 0a3.15 3.15 0 1 0 -6.3 0zM398.59 937.27a3.15 3.15 0 1 0 6.3 0a3.15 3.15 0 1 0 -6.3 0zM412.42 934.4a3.15 3.15 0 1 0 6.3 0a3.15 3.15 0 1 0 -6.3 0zM426.25 931.52a3.15 3.15 0 1 0 6.3 0a3.15 3.15 0 1 0 -6.3 0zM440.08 928.65a3.15 3.15 0 1 0 6.3 0a3.15 3.15 0 1 0 -6.3 0zM453.9 925.77a3.15 3.15 0 1 0 6.3 0a3.15 3.15 0 1 0 -6.3 0zM467.73 922.9a3.15 3.15 0 1 0 6.3 0a3.15 3.15 0 1 0 -6.3 0zM481.56 920.02a3.15 3.15 0 1 0 6.3 0a3.15 3.15 0 1 0 -6.3 0zM495.39 917.15a3.15 3.15 0 1 0 6.3 0a3.15 3.15 0 1 0 -6.3 0zM509.22 914.27a3.15 3.15 0 1 0 6.3 0a3.15 3.15 0 1 0 -6.3 0zM523.05 911.4a3.15 3.15 0 1 0 6.3 0a3.15 3.15 0 1 0 -6.3 0zM536.88 908.52a3.15 3.15 0 1 0 6.3 0a3.15 3.15 0 1 0 -6.3 0zM550.71 905.65a3.15 3.15 0 1 0 6.3 0a3.15 3.15 0 1 0 -6.3 0zM564.54 902.77a3.15 3.15 0 1 0 6.3 0a3.15 3.15 0 1 0 -6.3 0zM578.37 899.89a3.15 3.15 0 1 0 6.3 0a3.15 3.15 0 1 0 -6.3 0zM592.19 897.02a3.15 3.15 0 1 0 6.3 0a3.15 3.15 0 1 0 -6.3 0zM606.02 894.14a3.15 3.15 0 1 0 6.3 0a3.15 3.15 0 1 0 -6.3 0zM619.85 891.27a3.15 3.15 0 1 0 6.3 0a3.15 3.15 0 1 0 -6.3 0zM633.68 888.39a3.15 3.15 0 1 0 6.3 0a3.15 3.15 0 1 0 -6.3 0zM647.51 885.52a3.15 3.15 0 1 0 6.3 0a3.15 3.15 0 1 0 -6.3 0zM661.34 882.64a3.15 3.15 0 1 0 6.3 0a3.15 3.15 0 1 0 -6.3 0zM675.17 879.77a3.15 3.15 0 1 0 6.3 0a3.15 3.15 0 1 0 -6.3 0zM689 876.89a3.15 3.15 0 1 0 6.3 0a3.15 3.15 0 1 0 -6.3 0zM702.83 874.02a3.15 3.15 0 1 0 6.3 0a3.15 3.15 0 1 0 -6.3 0zM716.66 871.14a3.15 3.15 0 1 0 6.3 0a3.15 3.15 0 1 0 -6.3 0zM730.48 868.27a3.15 3.15 0 1 0 6.3 0a3.15 3.15 0 1 0 -6.3 0zM744.31 865.39a3.15 3.15 0 1 0 6.3 0a3.15 3.15 0 1 0 -6.3 0zM758.14 862.52a3.15 3.15 0 1 0 6.3 0a3.15 3.15 0 1 0 -6.3 0zM771.97 859.64a3.15 3.15 0 1 0 6.3 0a3.15 3.15 0 1 0 -6.3 0zM785.8 856.77a3.15 3.15 0 1 0 6.3 0a3.15 3.15 0 1 0 -6.3 0zM799.63 853.89a3.15 3.15 0 1 0 6.3 0a3.15 3.15 0 1 0 -6.3 0zM813.46 851.02a3.15 3.15 0 1 0 6.3 0a3.15 3.15 0 1 0 -6.3 0zM827.29 848.14a3.15 3.15 0 1 0 6.3 0a3.15 3.15 0 1 0 -6.3 0zM841.12 845.27a3.15 3.15 0 1 0 6.3 0a3.15 3.15 0 1 0 -6.3 0zM854.95 842.39a3.15 3.15 0 1 0 6.3 0a3.15 3.15 0 1 0 -6.3 0zM868.77 839.52a3.15 3.15 0 1 0 6.3 0a3.15 3.15 0 1 0 -6.3 0zM882.6 836.64a3.15 3.15 0 1 0 6.3 0a3.15 3.15 0 1 0 -6.3 0zM896.43 833.77a3.15 3.15 0 1 0 6.3 0a3.15 3.15 0 1 0 -6.3 0zM910.26 830.89a3.15 3.15 0 1 0 6.3 0a3.15 3.15 0 1 0 -6.3 0zM924.09 828.02a3.15 3.15 0 1 0 6.3 0a3.15 3.15 0 1 0 -6.3 0zM937.92 825.14a3.15 3.15 0 1 0 6.3 0a3.15 3.15 0 1 0 -6.3 0zM951.75 822.27a3.15 3.15 0 1 0 6.3 0a3.15 3.15 0 1 0 -6.3 0zM965.58 819.39a3.15 3.15 0 1 0 6.3 0a3.15 3.15 0 1 0 -6.3 0zM979.41 816.52a3.15 3.15 0 1 0 6.3 0a3.15 3.15 0 1 0 -6.3 0zM993.24 813.64a3.15 3.15 0 1 0 6.3 0a3.15 3.15 0 1 0 -6.3 0zM1007.06 810.77a3.15 3.15 0 1 0 6.3 0a3.15 3.15 0 1 0 -6.3 0zM1020.89 807.89a3.15 3.15 0 1 0 6.3 0a3.15 3.15 0 1 0 -6.3 0zM1034.72 805.02a3.15 3.15 0 1 0 6.3 0a3.15 3.15 0 1 0 -6.3 0zM1048.55 802.14a3.15 3.15 0 1 0 6.3 0a3.15 3.15 0 1 0 -6.3 0zM1062.38 799.27a3.15 3.15 0 1 0 6.3 0a3.15 3.15 0 1 0 -6.3 0zM1076.21 796.39a3.15 3.15 0 1 0 6.3 0a3.15 3.15 0 1 0 -6.3 0zM1090.04 793.52a3.15 3.15 0 1 0 6.3 0a3.15 3.15 0 1 0 -6.3 0zM1103.87 790.64a3.15 3.15 0 1 0 6.3 0a3.15 3.15 0 1 0 -6.3 0zM1117.7 787.77a3.15 3.15 0 1 0 6.3 0a3.15 3.15 0 1 0 -6.3 0zM1131.53 784.89a3.15 3.15 0 1 0 6.3 0a3.15 3.15 0 1 0 -6.3 0zM1145.35 782.02a3.15 3.15 0 1 0 6.3 0a3.15 3.15 0 1 0 -6.3 0zM1159.18 779.14a3.15 3.15 0 1 0 6.3 0a3.15 3.15 0 1 0 -6.3 0zM1173.01 776.27a3.15 3.15 0 1 0 6.3 0a3.15 3.15 0 1 0 -6.3 0zM1186.84 773.39a3.15 3.15 0 1 0 6.3 0a3.15 3.15 0 1 0 -6.3 0zM1200.67 770.52a3.15 3.15 0 1 0 6.3 0a3.15 3.15 0 1 0 -6.3 0zM1214.5 767.64a3.15 3.15 0 1 0 6.3 0a3.15 3.15 0 1 0 -6.3 0zM1228.33 764.77a3.15 3.15 0 1 0 6.3 0a3.15 3.15 0 1 0 -6.3 0zM1242.16 761.89a3.15 3.15 0 1 0 6.3 0a3.15 3.15 0 1 0 -6.3 0zM1255.99 759.02a3.15 3.15 0 1 0 6.3 0a3.15 3.15 0 1 0 -6.3 0zM1269.82 756.14a3.15 3.15 0 1 0 6.3 0a3.15 3.15 0 1 0 -6.3 0zM1283.64 753.27a3.15 3.15 0 1 0 6.3 0a3.15 3.15 0 1 0 -6.3 0zM1297.47 750.39a3.15 3.15 0 1 0 6.3 0a3.15 3.15 0 1 0 -6.3 0zM1311.3 747.52a3.15 3.15 0 1 0 6.3 0a3.15 3.15 0 1 0 -6.3 0zM1325.13 744.64a3.15 3.15 0 1 0 6.3 0a3.15 3.15 0 1 0 -6.3 0zM1338.96 741.77a3.15 3.15 0 1 0 6.3 0a3.15 3.15 0 1 0 -6.3 0zM1352.79 738.89a3.15 3.15 0 1 0 6.3 0a3.15 3.15 0 1 0 -6.3 0zM1366.62 736.02a3.15 3.15 0 1 0 6.3 0a3.15 3.15 0 1 0 -6.3 0zM1380.45 733.14a3.15 3.15 0 1 0 6.3 0a3.15 3.15 0 1 0 -6.3 0zM1394.28 730.26a3.15 3.15 0 1 0 6.3 0a3.15 3.15 0 1 0 -6.3 0zM1408.11 727.39a3.15 3.15 0 1 0 6.3 0a3.15 3.15 0 1 0 -6.3 0zM1421.93 724.51a3.15 3.15 0 1 0 6.3 0a3.15 3.15 0 1 0 -6.3 0zM1435.76 721.64a3.15 3.15 0 1 0 6.3 0a3.15 3.15 0 1 0 -6.3 0zM1449.59 718.76a3.15 3.15 0 1 0 6.3 0a3.15 3.15 0 1 0 -6.3 0zM1463.42 715.89a3.15 3.15 0 1 0 6.3 0a3.15 3.15 0 1 0 -6.3 0zM1477.25 713.01a3.15 3.15 0 1 0 6.3 0a3.15 3.15 0 1 0 -6.3 0z" fill="#000"/>
<path d="M90.2 1018.49h14.6M97.5 1011.19v14.6M104.03 1016.34h14.6M111.33 1009.04v14.6M117.86 1014.18h14.6M125.16 1006.88v14.6M131.69 1012.02h14.6M138.99 1004.72v14.6M145.52 1009.87h14.6M152.82 1002.57v14.6M159.34 1007.71h14.6M166.65 1000.41v14.6M173.17 1005.55h14.6M180.47 998.25v14.6M187 1003.4h14.6M194.3 996.1v14.6M200.83 1001.24h14.6M208.13 993.94v14.6M214.66 999.09h14.6M221.96 991.79v14.6M228.49 996.93h14.6M235.79 989.63v14.6M242.32 994.77h14.6M249.62 987.47v14.6M256.15 992.62h14.6M263.45 985.32v14.6M269.98 990.46h14.6M277.28 983.16v14.6M283.81 988.3h14.6M291.11 981v14.6M297.63 986.15h14.6M304.94 978.85v14.6M311.46 983.99h14.6M318.76 976.69v14.6M325.29 981.83h14.6M332.59 974.53v14.6M339.12 979.68h14.6M346.42 972.38v14.6M352.95 977.52h14.6M360.25 970.22v14.6M366.78 975.37h14.6M374.08 968.07v14.6M380.61 973.21h14.6M387.91 965.91v14.6M394.44 971.05h14.6M401.74 963.75v14.6M408.27 968.9h14.6M415.57 961.6v14.6M422.1 966.74h14.6M429.4 959.44v14.6M435.93 964.58h14.6M443.23 957.28v14.6M449.75 962.43h14.6M457.05 955.13v14.6M463.58 960.27h14.6M470.88 952.97v14.6M477.41 958.12h14.6M484.71 950.82v14.6M491.24 955.96h14.6M498.54 948.66v14.6M505.07 953.8h14.6M512.37 946.5v14.6M518.9 951.65h14.6M526.2 944.35v14.6M532.73 949.49h14.6M540.03 942.19v14.6M546.56 947.33h14.6M553.86 940.03v14.6M560.39 945.18h14.6M567.69 937.88v14.6M574.22 943.02h14.6M581.51 935.72v14.6M588.04 940.86h14.6M595.34 933.56v14.6M601.87 938.71h14.6M609.17 931.41v14.6M615.7 936.55h14.6M623 929.25v14.6M629.53 934.4h14.6M636.83 927.1v14.6M643.36 932.24h14.6M650.66 924.94v14.6M657.19 930.08h14.6M664.49 922.78v14.6M671.02 927.93h14.6M678.32 920.63v14.6M684.85 925.77h14.6M692.15 918.47v14.6M698.68 923.61h14.6M705.98 916.31v14.6M712.51 921.46h14.6M719.81 914.16v14.6M726.33 919.3h14.6M733.63 912v14.6M740.16 917.15h14.6M747.46 909.85v14.6M753.99 914.99h14.6M761.29 907.69v14.6M767.82 912.83h14.6M775.12 905.53v14.6M781.65 910.68h14.6M788.95 903.38v14.6M795.48 908.52h14.6M802.78 901.22v14.6M809.31 906.36h14.6M816.61 899.06v14.6M823.14 904.21h14.6M830.44 896.91v14.6M836.97 902.05h14.6M844.27 894.75v14.6M850.8 899.89h14.6M858.1 892.59v14.6M864.62 897.74h14.6M871.92 890.44v14.6M878.45 895.58h14.6M885.75 888.28v14.6M892.28 893.43h14.6M899.58 886.13v14.6M906.11 891.27h14.6M913.41 883.97v14.6M919.94 889.11h14.6M927.24 881.81v14.6M933.77 886.96h14.6M941.07 879.66v14.6M947.6 884.8h14.6M954.9 877.5v14.6M961.43 882.64h14.6M968.73 875.34v14.6M975.26 880.49h14.6M982.56 873.19v14.6M989.09 878.33h14.6M996.39 871.03v14.6M1002.91 876.18h14.6M1010.21 868.88v14.6M1016.74 874.02h14.6M1024.04 866.72v14.6M1030.57 871.86h14.6M1037.87 864.56v14.6M1044.4 869.71h14.6M1051.7 862.41v14.6M1058.23 867.55h14.6M1065.53 860.25v14.6M1072.06 865.39h14.6M1079.36 858.09v14.6M1085.89 863.24h14.6M1093.19 855.94v14.6M1099.72 861.08h14.6M1107.02 853.78v14.6M1113.55 858.92h14.6M1120.85 851.62v14.6M1127.38 856.77h14.6M1134.68 849.47v14.6M1141.2 854.61h14.6M1148.5 847.31v14.6M1155.03 852.46h14.6M1162.33 845.16v14.6M1168.86 850.3h14.6M1176.16 843v14.6M1182.69 848.14h14.6M1189.99 840.84v14.6M1196.52 845.99h14.6M1203.82 838.69v14.6M1210.35 843.83h14.6M1217.65 836.53v14.6M1224.18 841.67h14.6M1231.48 834.37v14.6M1238.01 839.52h14.6M1245.31 832.22v14.6M1251.84 837.36h14.6M1259.14 830.06v14.6M1265.67 835.21h14.6M1272.97 827.91v14.6M1279.49 833.05h14.6M1286.79 825.75v14.6M1293.32 830.89h14.6M1300.62 823.59v14.6M1307.15 828.74h14.6M1314.45 821.44v14.6M1320.98 826.58h14.6M1328.28 819.28v14.6M1334.81 824.42h14.6M1342.11 817.12v14.6M1348.64 822.27h14.6M1355.94 814.97v14.6M1362.47 820.11h14.6M1369.77 812.81v14.6M1376.3 817.95h14.6M1383.6 810.65v14.6M1390.13 815.8h14.6M1397.43 808.5v14.6M1403.96 813.64h14.6M1411.26 806.34v14.6M1417.78 811.49h14.6M1425.08 804.19v14.6M1431.61 809.33h14.6M1438.91 802.03v14.6M1445.44 807.17h14.6M1452.74 799.87v14.6M1459.27 805.02h14.6M1466.57 797.72v14.6M1473.1 802.86h14.6M1480.4 795.56v14.6" fill="none" stroke="#000" stroke-width="3.45" stroke-linecap="round"/>
<path d="M90.75 1036.46a6.75 6.75 0 1 0 13.5 0a6.75 6.75 0 1 0 -13.5 0zM104.58 1035.02a6.75 6.75 0 1 0 13.5 0a6.75 6.75 0 1 0 -13.5 0zM118.41 1033.59a6.75 6.75 0 1 0 13.5 0a6.75 6.75 0 1 0 -13.5 0zM132.24 1032.15a6.75 6.75 0 1 0 13.5 0a6.75 6.75 0 1 0 -13.5 0zM146.07 1030.71a6.75 6.75 0 1 0 13.5 0a6.75 6.75 0 1 0 -13.5 0zM159.9 1029.27a6.75 6.75 0 1 0 13.5 0a6.75 6.75 0 1 0 -13.5 0zM173.72 1027.84a6.75 6.75 0 1 0 13.5 0a6.75 6.75 0 1 0 -13.5 0zM187.55 1026.4a6.75 6.75 0 1 0 13.5 0a6.75 6.75 0 1 0 -13.5 0zM201.38 1024.96a6.75 6.75 0 1 0 13.5 0a6.75 6.75 0 1 0 -13.5 0zM215.21 1023.52a6.75 6.75 0 1 0 13.5 0a6.75 6.75 0 1 0 -13.5 0zM229.04 1022.09a6.75 6.75 0 1 0 13.5 0a6.75 6.75 0 1 0 -13.5 0zM242.87 1020.65a6.75 6.75 0 1 0 13.5 0a6.75 6.75 0 1 0 -13.5 0zM256.7 1019.21a6.75 6.75 0 1 0 13.5 0a6.75 6.75 0 1 0 -13.5 0zM270.53 1017.77a6.75 6.75 0 1 0 13.5 0a6.75 6.75 0 1 0 -13.5 0zM284.36 1016.34a6.75 6.75 0 1 0 13.5 0a6.75 6.75 0 1 0 -13.5 0zM298.19 1014.9a6.75 6.75 0 1 0 13.5 0a6.75 6.75 0 1 0 -13.5 0zM312.01 1013.46a6.75 6.75 0 1 0 13.5 0a6.75 6.75 0 1 0 -13.5 0zM325.84 1012.02a6.75 6.75 0 1 0 13.5 0a6.75 6.75 0 1 0 -13.5 0zM339.67 1010.59a6.75 6.75 0 1 0 13.5 0a6.75 6.75 0 1 0 -13.5 0zM353.5 1009.15a6.75 6.75 0 1 0 13.5 0a6.75 6.75 0 1 0 -13.5 0zM367.33 1007.71a6.75 6.75 0 1 0 13.5 0a6.75 6.75 0 1 0 -13.5 0zM381.16 1006.27a6.75 6.75 0 1 0 13.5 0a6.75 6.75 0 1 0 -13.5 0zM394.99 1004.84a6.75 6.75 0 1 0 13.5 0a6.75 6.75 0 1 0 -13.5 0zM408.82 1003.4a6.75 6.75 0 1 0 13.5 0a6.75 6.75 0 1 0 -13.5 0zM422.65 1001.96a6.75 6.75 0 1 0 13.5 0a6.75 6.75 0 1 0 -13.5 0zM436.48 1000.52a6.75 6.75 0 1 0 13.5 0a6.75 6.75 0 1 0 -13.5 0zM450.3 999.09a6.75 6.75 0 1 0 13.5 0a6.75 6.75 0 1 0 -13.5 0zM464.13 997.65a6.75 6.75 0 1 0 13.5 0a6.75 6.75 0 1 0 -13.5 0zM477.96 996.21a6.75 6.75 0 1 0 13.5 0a6.75 6.75 0 1 0 -13.5 0zM491.79 994.77a6.75 6.75 0 1 0 13.5 0a6.75 6.75 0 1 0 -13.5 0zM505.62 993.34a6.75 6.75 0 1 0 13.5 0a6.75 6.75 0 1 0 -13.5 0zM519.45 991.9a6.75 6.75 0 1 0 13.5 0a6.75 6.75 0 1 0 -13.5 0zM533.28 990.46a6.75 6.75 0 1 0 13.5 0a6.75 6.75 0 1 0 -13.5 0zM547.11 989.02a6.75 6.75 0 1 0 13.5 0a6.75 6.75 0 1 0 -13.5 0zM560.94 987.58a6.75 6.75 0 1 0 13.5 0a6.75 6.75 0 1 0 -13.5 0zM574.76 986.15a6.75 6.75 0 1 0 13.5 0a6.75 6.75 0 1 0 -13.5 0zM588.59 984.71a6.75 6.75 0 1 0 13.5 0a6.75 6.75 0 1 0 -13.5 0zM602.42 983.27a6.75 6.75 0 1 0 13.5 0a6.75 6.75 0 1 0 -13.5 0zM616.25 981.83a6.75 6.75 0 1 0 13.5 0a6.75 6.75 0 1 0 -13.5 0zM630.08 980.4a6.75 6.75 0 1 0 13.5 0a6.75 6.75 0 1 0 -13.5 0zM643.91 978.96a6.75 6.75 0 1 0 13.5 0a6.75 6.75 0 1 0 -13.5 0zM657.74 977.52a6.75 6.75 0 1 0 13.5 0a6.75 6.75 0 1 0 -13.5 0zM671.57 976.08a6.75 6.75 0 1 0 13.5 0a6.75 6.75 0 1 0 -13.5 0zM685.4 974.65a6.75 6.75 0 1 0 13.5 0a6.75 6.75 0 1 0 -13.5 0zM699.23 973.21a6.75 6.75 0 1 0 13.5 0a6.75 6.75 0 1 0 -13.5 0zM713.06 971.77a6.75 6.75 0 1 0 13.5 0a6.75 6.75 0 1 0 -13.5 0zM726.88 970.33a6.75 6.75 0 1 0 13.5 0a6.75 6.75 0 1 0 -13.5 0zM740.71 968.9a6.75 6.75 0 1 0 13.5 0a6.75 6.75 0 1 0 -13.5 0zM754.54 967.46a6.75 6.75 0 1 0 13.5 0a6.75 6.75 0 1 0 -13.5 0zM768.37 966.02a6.75 6.75 0 1 0 13.5 0a6.75 6.75 0 1 0 -13.5 0zM782.2 964.58a6.75 6.75 0 1 0 13.5 0a6.75 6.75 0 1 0 -13.5 0zM796.03 963.15a6.75 6.75 0 1 0 13.5 0a6.75 6.75 0 1 0 -13.5 0zM809.86 961.71a6.75 6.75 0 1 0 13.5 0a6.75 6.75 0 1 0 -13.5 0zM823.69 960.27a6.75 6.75 0 1 0 13.5 0a6.75 6.75 0 1 0 -13.5 0zM837.52 958.83a6.75 6.75 0 1 0 13.5 0a6.75 6.75 0 1 0 -13.5 0zM851.35 957.4a6.75 6.75 0 1 0 13.5 0a6.75 6.75 0 1 0 -13.5 0zM865.17 955.96a6.75 6.75 0 1 0 13.5 0a6.75 6.75 0 1 0 -13.5 0zM879 954.52a6.75 6.75 0 1 0 13.5 0a6.75 6.75 0 1 0 -13.5 0zM892.83 953.08a6.75 6.75 0 1 0 13.5 0a6.75 6.75 0 1 0 -13.5 0zM906.66 951.65a6.75 6.75 0 1 0 13.5 0a6.75 6.75 0 1 0 -13.5 0zM920.49 950.21a6.75 6.75 0 1 0 13.5 0a6.75 6.75 0 1 0 -13.5 0zM934.32 948.77a6.75 6.75 0 1 0 13.5 0a6.75 6.75 0 1 0 -13.5 0zM948.15 947.33a6.75 6.75 0 1 0 13.5 0a6.75 6.75 0 1 0 -13.5 0zM961.98 945.9a6.75 6.75 0 1 0 13.5 0a6.75 6.75 0 1 0 -13.5 0zM975.81 944.46a6.75 6.75 0 1 0 13.5 0a6.75 6.75 0 1 0 -13.5 0zM989.64 943.02a6.75 6.75 0 1 0 13.5 0a6.75 6.75 0 1 0 -13.5 0zM1003.46 941.58a6.75 6.75 0 1 0 13.5 0a6.75 6.75 0 1 0 -13.5 0zM1017.29 940.15a6.75 6.75 0 1 0 13.5 0a6.75 6.75 0 1 0 -13.5 0zM1031.12 938.71a6.75 6.75 0 1 0 13.5 0a6.75 6.75 0 1 0 -13.5 0zM1044.95 937.27a6.75 6.75 0 1 0 13.5 0a6.75 6.75 0 1 0 -13.5 0zM1058.78 935.83a6.75 6.75 0 1 0 13.5 0a6.75 6.75 0 1 0 -13.5 0zM1072.61 934.4a6.75 6.75 0 1 0 13.5 0a6.75 6.75 0 1 0 -13.5 0zM1086.44 932.96a6.75 6.75 0 1 0 13.5 0a6.75 6.75 0 1 0 -13.5 0zM1100.27 931.52a6.75 6.75 0 1 0 13.5 0a6.75 6.75 0 1 0 -13.5 0zM1114.1 930.08a6.75 6.75 0 1 0 13.5 0a6.75 6.75 0 1 0 -13.5 0zM1127.93 928.65a6.75 6.75 0 1 0 13.5 0a6.75 6.75 0 1 0 -13.5 0zM1141.75 927.21a6.75 6.75 0 1 0 13.5 0a6.75 6.75 0 1 0 -13.5 0zM1155.58 925.77a6.75 6.75 0 1 0 13.5 0a6.75 6.75 0 1 0 -13.5 0zM1169.41 924.33a6.75 6.75 0 1 0 13.5 0a6.75 6.75 0 1 0 -13.5 0zM1183.24 922.9a6.75 6.75 0 1 0 13.5 0a6.75 6.75 0 1 0 -13.5 0zM1197.07 921.46a6.75 6.75 0 1 0 13.5 0a6.75 6.75 0 1 0 -13.5 0zM1210.9 920.02a6.75 6.75 0 1 0 13.5 0a6.75 6.75 0 1 0 -13.5 0zM1224.73 918.58a6.75 6.75 0 1 0 13.5 0a6.75 6.75 0 1 0 -13.5 0zM1238.56 917.15a6.75 6.75 0 1 0 13.5 0a6.75 6.75 0 1 0 -13.5 0zM1252.39 915.71a6.75 6.75 0 1 0 13.5 0a6.75 6.75 0 1 0 -13.5 0zM1266.22 914.27a6.75 6.75 0 1 0 13.5 0a6.75 6.75 0 1 0 -13.5 0zM1280.04 912.83a6.75 6.75 0 1 0 13.5 0a6.75 6.75 0 1 0 -13.5 0zM1293.87 911.4a6.75 6.75 0 1 0 13.5 0a6.75 6.75 0 1 0 -13.5 0zM1307.7 909.96a6.75 6.75 0 1 0 13.5 0a6.75 6.75 0 1 0 -13.5 0zM1321.53 908.52a6.75 6.75 0 1 0 13.5 0a6.75 6.75 0 1 0 -13.5 0zM1335.36 907.08a6.75 6.75 0 1 0 13.5 0a6.75 6.75 0 1 0 -13.5 0zM1349.19 905.65a6.75 6.75 0 1 0 13.5 0a6.75 6.75 0 1 0 -13.5 0zM1363.02 904.21a6.75 6.75 0 1 0 13.5 0a6.75 6.75 0 1 0 -13.5 0zM1376.85 902.77a6.75 6.75 0 1 0 13.5 0a6.75 6.75 0 1 0 -13.5 0zM1390.68 901.33a6.75 6.75 0 1 0 13.5 0a6.75 6.75 0 1 0 -13.5 0zM1404.51 899.89a6.75 6.75 0 1 0 13.5 0a6.75 6.75 0 1 0 -13.5 0zM1418.33 898.46a6.75 6.75 0 1 0 13.5 0a6.75 6.75 0 1 0 -13.5 0zM1432.16 897.02a6.75 6.75 0 1 0 13.5 0a6.75 6.75 0 1 0 -13.5 0zM1445.99 895.58a6.75 6.75 0 1 0 13.5 0a6.75 6.75 0 1 0 -13.5 0zM1459.82 894.14a6.75 6.75 0 1 0 13.5 0a6.75 6.75 0 1 0 -13.5 0zM1473.65 892.71a6.75 6.75 0 1 0 13.5 0a6.75 6.75 0 1 0 -13.5 0z" fill="none" stroke="#000" stroke-width="3.6"/>
<path d="M92.6 1049.53l9.8 9.8M92.6 1059.33l9.8 -9.8M106.43 1048.81l9.8 9.8M106.43 1058.61l9.8 -9.8M120.26 1048.09l9.8 9.8M120.26 1057.89l9.8 -9.8M134.09 1047.37l9.8 9.8M134.09 1057.17l9.8 -9.8M147.92 1046.66l9.8 9.8M147.92 1056.46l9.8 -9.8M161.75 1045.94l9.8 9.8M161.75 1055.74l9.8 -9.8M175.57 1045.22l9.8 9.8M175.57 1055.02l9.8 -9.8M189.4 1044.5l9.8 9.8M189.4 1054.3l9.8 -9.8M203.23 1043.78l9.8 9.8M203.23 1053.58l9.8 -9.8M217.06 1043.06l9.8 9.8M217.06 1052.86l9.8 -9.8M230.89 1042.34l9.8 9.8M230.89 1052.14l9.8 -9.8M244.72 1041.62l9.8 9.8M244.72 1051.42l9.8 -9.8M258.55 1040.91l9.8 9.8M258.55 1050.71l9.8 -9.8M272.38 1040.19l9.8 9.8M272.38 1049.99l9.8 -9.8M286.21 1039.47l9.8 9.8M286.21 1049.27l9.8 -9.8M300.04 1038.75l9.8 9.8M300.04 1048.55l9.8 -9.8M313.86 1038.03l9.8 9.8M313.86 1047.83l9.8 -9.8M327.69 1037.31l9.8 9.8M327.69 1047.11l9.8 -9.8M341.52 1036.59l9.8 9.8M341.52 1046.39l9.8 -9.8M355.35 1035.87l9.8 9.8M355.35 1045.67l9.8 -9.8M369.18 1035.16l9.8 9.8M369.18 1044.96l9.8 -9.8M383.01 1034.44l9.8 9.8M383.01 1044.24l9.8 -9.8M396.84 1033.72l9.8 9.8M396.84 1043.52l9.8 -9.8M410.67 1033l9.8 9.8M410.67 1042.8l9.8 -9.8M424.5 1032.28l9.8 9.8M424.5 1042.08l9.8 -9.8M438.33 1031.56l9.8 9.8M438.33 1041.36l9.8 -9.8M452.15 1030.84l9.8 9.8M452.15 1040.64l9.8 -9.8M465.98 1030.12l9.8 9.8M465.98 1039.92l9.8 -9.8M479.81 1029.41l9.8 9.8M479.81 1039.21l9.8 -9.8M493.64 1028.69l9.8 9.8M493.64 1038.49l9.8 -9.8M507.47 1027.97l9.8 9.8M507.47 1037.77l9.8 -9.8M521.3 1027.25l9.8 9.8M521.3 1037.05l9.8 -9.8M535.13 1026.53l9.8 9.8M535.13 1036.33l9.8 -9.8M548.96 1025.81l9.8 9.8M548.96 1035.61l9.8 -9.8M562.79 1025.09l9.8 9.8M562.79 1034.89l9.8 -9.8M576.62 1024.37l9.8 9.8M576.62 1034.17l9.8 -9.8M590.44 1023.65l9.8 9.8M590.44 1033.45l9.8 -9.8M604.27 1022.94l9.8 9.8M604.27 1032.74l9.8 -9.8M618.1 1022.22l9.8 9.8M618.1 1032.02l9.8 -9.8M631.93 1021.5l9.8 9.8M631.93 1031.3l9.8 -9.8M645.76 1020.78l9.8 9.8M645.76 1030.58l9.8 -9.8M659.59 1020.06l9.8 9.8M659.59 1029.86l9.8 -9.8M673.42 1019.34l9.8 9.8M673.42 1029.14l9.8 -9.8M687.25 1018.62l9.8 9.8M687.25 1028.42l9.8 -9.8M701.08 1017.9l9.8 9.8M701.08 1027.7l9.8 -9.8M714.91 1017.19l9.8 9.8M714.91 1026.99l9.8 -9.8M728.73 1016.47l9.8 9.8M728.73 1026.27l9.8 -9.8M742.56 1015.75l9.8 9.8M742.56 1025.55l9.8 -9.8M756.39 1015.03l9.8 9.8M756.39 1024.83l9.8 -9.8M770.22 1014.31l9.8 9.8M770.22 1024.11l9.8 -9.8M784.05 1013.59l9.8 9.8M784.05 1023.39l9.8 -9.8M797.88 1012.87l9.8 9.8M797.88 1022.67l9.8 -9.8M811.71 1012.15l9.8 9.8M811.71 1021.95l9.8 -9.8M825.54 1011.44l9.8 9.8M825.54 1021.24l9.8 -9.8M839.37 1010.72l9.8 9.8M839.37 1020.52l9.8 -9.8M853.2 1010l9.8 9.8M853.2 1019.8l9.8 -9.8M867.02 1009.28l9.8 9.8M867.02 1019.08l9.8 -9.8M880.85 1008.56l9.8 9.8M880.85 1018.36l9.8 -9.8M894.68 1007.84l9.8 9.8M894.68 1017.64l9.8 -9.8M908.51 1007.12l9.8 9.8M908.51 1016.92l9.8 -9.8M922.34 1006.4l9.8 9.8M922.34 1016.2l9.8 -9.8M936.17 1005.69l9.8 9.8M936.17 1015.49l9.8 -9.8M950 1004.97l9.8 9.8M950 1014.77l9.8 -9.8M963.83 1004.25l9.8 9.8M963.83 1014.05l9.8 -9.8M977.66 1003.53l9.8 9.8M977.66 1013.33l9.8 -9.8M991.49 1002.81l9.8 9.8M991.49 1012.61l9.8 -9.8M1005.31 1002.09l9.8 9.8M1005.31 1011.89l9.8 -9.8M1019.14 1001.37l9.8 9.8M1019.14 1011.17l9.8 -9.8M1032.97 1000.65l9.8 9.8M1032.97 1010.45l9.8 -9.8M1046.8 999.94l9.8 9.8M1046.8 1009.74l9.8 -9.8M1060.63 999.22l9.8 9.8M1060.63 1009.02l9.8 -9.8M1074.46 998.5l9.8 9.8M1074.46 1008.3l9.8 -9.8M1088.29 997.78l9.8 9.8M1088.29 1007.58l9.8 -9.8M1102.12 997.06l9.8 9.8M1102.12 1006.86l9.8 -9.8M1115.95 996.34l9.8 9.8M1115.95 1006.14l9.8 -9.8M1129.78 995.62l9.8 9.8M1129.78 1005.42l9.8 -9.8M1143.6 994.9l9.8 9.8M1143.6 1004.7l9.8 -9.8M1157.43 994.19l9.8 9.8M1157.43 1003.99l9.8 -9.8M1171.26 993.47l9.8 9.8M1171.26 1003.27l9.8 -9.8M1185.09 992.75l9.8 9.8M1185.09 1002.55l9.8 -9.8M1198.92 992.03l9.8 9.8M1198.92 1001.83l9.8 -9.8M1212.75 991.31l9.8 9.8M1212.75 1001.11l9.8 -9.8M1226.58 990.59l9.8 9.8M1226.58 1000.39l9.8 -9.8M1240.41 989.87l9.8 9.8M1240.41 999.67l9.8 -9.8M1254.24 989.15l9.8 9.8M1254.24 998.95l9.8 -9.8M1268.07 988.44l9.8 9.8M1268.07 998.24l9.8 -9.8M1281.89 987.72l9.8 9.8M1281.89 997.52l9.8 -9.8M1295.72 987l9.8 9.8M1295.72 996.8l9.8 -9.8M1309.55 986.28l9.8 9.8M1309.55 996.08l9.8 -9.8M1323.38 985.56l9.8 9.8M1323.38 995.36l9.8 -9.8M1337.21 984.84l9.8 9.8M1337.21 994.64l9.8 -9.8M1351.04 984.12l9.8 9.8M1351.04 993.92l9.8 -9.8M1364.87 983.4l9.8 9.8M1364.87 993.2l9.8 -9.8M1378.7 982.68l9.8 9.8M1378.7 992.48l9.8 -9.8M1392.53 981.97l9.8 9.8M1392.53 991.77l9.8 -9.8M1406.36 981.25l9.8 9.8M1406.36 991.05l9.8 -9.8M1420.18 980.53l9.8 9.8M1420.18 990.33l9.8 -9.8M1434.01 979.81l9.8 9.8M1434.01 989.61l9.8 -9.8M1447.84 979.09l9.8 9.8M1447.84 988.89l9.8 -9.8M1461.67 978.37l9.8 9.8M1461.67 988.17l9.8 -9.8M1475.5 977.65l9.8 9.8M1475.5 987.45l9.8 -9.8" fill="none" stroke="#000" stroke-width="3.1" stroke-linecap="round"/>
<rect x="116.5" y="630.6" width="325.9" height="204.1" fill="#fff" stroke="#484848" stroke-width="1.7"/>
<path d="M126.5 652.7L196.6 652.7" fill="none" stroke="#000" stroke-width="3.4" stroke-linejoin="round"/>
<text x="203.3" y="665.2" font-size="31.25" text-anchor="start" class="k">length = 10 mm</text>
<path d="M158.65 692.5a3.15 3.15 0 1 0 6.3 0a3.15 3.15 0 1 0 -6.3 0z" fill="#000"/>
<text x="203.3" y="704.3" font-size="31.25" text-anchor="start" class="k">length = 8 mm</text>
<path d="M154.5 731.9h14.6M161.8 724.6v14.6" fill="none" stroke="#000" stroke-width="3.45" stroke-linecap="round"/>
<text x="203.3" y="743.5" font-size="31.25" text-anchor="start" class="k">length = 6 mm</text>
<path d="M155.05 771.4a6.75 6.75 0 1 0 13.5 0a6.75 6.75 0 1 0 -13.5 0z" fill="none" stroke="#000" stroke-width="3.6"/>
<text x="203.3" y="782.5" font-size="31.25" text-anchor="start" class="k">length = 4 mm</text>
<path d="M156.9 804.5l9.8 9.8M156.9 814.3l9.8 -9.8" fill="none" stroke="#000" stroke-width="3.1" stroke-linecap="round"/>
<text x="203.3" y="821.7" font-size="31.25" text-anchor="start" class="k">length = 2 mm</text>
<path d="M99.4 1174.3V1633.8H1483M99.4 1633.8h13.2M99.4 1480.63h13.2M99.4 1327.47h13.2M99.4 1174.3h13.2M99.4 1633.8v-14.5M297.06 1633.8v-14.5M494.71 1633.8v-14.5M692.37 1633.8v-14.5M890.03 1633.8v-14.5M1087.69 1633.8v-14.5M1285.34 1633.8v-14.5M1483 1633.8v-14.5" fill="none" stroke="#484848" stroke-width="1.7"/>
<text x="0" y="0" font-size="28.7" text-anchor="end" transform="translate(87.4 1644) scale(1.0 1.03)">0</text>
<text x="0" y="0" font-size="28.7" text-anchor="end" transform="translate(87.4 1490.83) scale(1.0 1.03)">5</text>
<text x="0" y="0" font-size="28.7" text-anchor="end" transform="translate(87.4 1337.67) scale(1.0 1.03)">10</text>
<text x="0" y="0" font-size="28.7" text-anchor="end" transform="translate(87.4 1184.5) scale(1.0 1.03)">15</text>
<text x="0" y="0" font-size="28.7" text-anchor="middle" transform="translate(98.7 1672.6) scale(1.0 1.03)">50</text>
<text x="0" y="0" font-size="28.7" text-anchor="middle" transform="translate(296.36 1672.6) scale(1.0 1.03)">60</text>
<text x="0" y="0" font-size="28.7" text-anchor="middle" transform="translate(494.01 1672.6) scale(1.0 1.03)">70</text>
<text x="0" y="0" font-size="28.7" text-anchor="middle" transform="translate(691.67 1672.6) scale(1.0 1.03)">80</text>
<text x="0" y="0" font-size="28.7" text-anchor="middle" transform="translate(889.33 1672.6) scale(1.0 1.03)">90</text>
<text x="0" y="0" font-size="28.7" text-anchor="middle" transform="translate(1086.99 1672.6) scale(1.0 1.03)">100</text>
<text x="0" y="0" font-size="28.7" text-anchor="middle" transform="translate(1284.64 1672.6) scale(1.0 1.03)">110</text>
<text x="0" y="0" font-size="28.7" text-anchor="middle" transform="translate(1482.3 1672.6) scale(1.0 1.03)">120</text>
<text x="791.5" y="1715.2" font-size="33.6" text-anchor="middle">Diameter (µm)</text>
<text x="0" y="0" font-size="33.3" text-anchor="middle" transform="translate(40.4 1403) rotate(-90)">Pressure Difference (mmHg)</text>
<text x="0" y="0" font-size="59.5" text-anchor="start" transform="translate(6.6 1168) scale(0.94 1.0)" class="k">C</text>
<path d="M99.4 1183.49L104.34 1192.38L109.28 1201.06L114.22 1209.53L119.17 1217.78L124.11 1225.84L129.05 1233.71L133.99 1241.38L138.93 1248.87L143.87 1256.19L148.81 1263.33L153.76 1270.3L158.7 1277.11L163.64 1283.76L168.58 1290.26L173.52 1296.61L178.46 1302.81L183.4 1308.87L188.35 1314.79L193.29 1320.58L198.23 1326.23L203.17 1331.76L208.11 1337.17L213.05 1342.45L217.99 1347.62L222.94 1352.67L227.88 1357.62L232.82 1362.45L237.76 1367.18L242.7 1371.81L247.64 1376.33L252.58 1380.76L257.53 1385.1L262.47 1389.34L267.41 1393.49L272.35 1397.56L277.29 1401.54L282.23 1405.43L287.17 1409.24L292.12 1412.98L297.06 1416.64L302 1420.22L306.94 1423.73L311.88 1427.16L316.82 1430.53L321.76 1433.83L326.71 1437.06L331.65 1440.23L336.59 1443.33L341.53 1446.37L346.47 1449.35L351.41 1452.27L356.35 1455.14L361.3 1457.95L366.24 1460.7L371.18 1463.4L376.12 1466.05L381.06 1468.64L386 1471.19L390.94 1473.68L395.89 1476.13L400.83 1478.54L405.77 1480.89L410.71 1483.21L415.65 1485.47L420.59 1487.7L425.53 1489.89L430.48 1492.03L435.42 1494.13L440.36 1496.2L445.3 1498.23L450.24 1500.22L455.18 1502.17L460.12 1504.09L465.07 1505.97L470.01 1507.82L474.95 1509.64L479.89 1511.42L484.83 1513.17L489.77 1514.89L494.71 1516.58L499.66 1518.24L504.6 1519.87L509.54 1521.47L514.48 1523.05L519.42 1524.59L524.36 1526.11L529.3 1527.61L534.25 1529.07L539.19 1530.51L544.13 1531.93L549.07 1533.32L554.01 1534.69L558.95 1536.04L563.89 1537.36L568.84 1538.66L573.78 1539.94L578.72 1541.2L583.66 1542.44L588.6 1543.65L593.54 1544.85L598.48 1546.03L603.43 1547.18L608.37 1548.32L613.31 1549.44L618.25 1550.54L623.19 1551.62L628.13 1552.69L633.07 1553.74L638.02 1554.77L642.96 1555.78L647.9 1556.78L652.84 1557.77L657.78 1558.73L662.72 1559.68L667.66 1560.62L672.61 1561.54L677.55 1562.45L682.49 1563.34L687.43 1564.22L692.37 1565.09L697.31 1565.94L702.25 1566.78L707.2 1567.61L712.14 1568.42L717.08 1569.22L722.02 1570.01L726.96 1570.79L731.9 1571.55L736.84 1572.3L741.79 1573.05L746.73 1573.78L751.67 1574.5L756.61 1575.21L761.55 1575.9L766.49 1576.59L771.43 1577.27L776.38 1577.94L781.32 1578.6L786.26 1579.25L791.2 1579.88L796.14 1580.51L801.08 1581.13L806.02 1581.75L810.97 1582.35L815.91 1582.94L820.85 1583.53L825.79 1584.1L830.73 1584.67L835.67 1585.23L840.61 1585.79L845.56 1586.33L850.5 1586.87L855.44 1587.4L860.38 1587.92L865.32 1588.44L870.26 1588.94L875.2 1589.44L880.15 1589.94L885.09 1590.42L890.03 1590.9L894.97 1591.38L899.91 1591.84L904.85 1592.3L909.79 1592.76L914.74 1593.21L919.68 1593.65L924.62 1594.08L929.56 1594.51L934.5 1594.94L939.44 1595.36L944.38 1595.77L949.33 1596.18L954.27 1596.58L959.21 1596.97L964.15 1597.37L969.09 1597.75L974.03 1598.13L978.97 1598.51L983.92 1598.88L988.86 1599.25L993.8 1599.61L998.74 1599.96L1003.68 1600.32L1008.62 1600.66L1013.56 1601.01L1018.51 1601.34L1023.45 1601.68L1028.39 1602.01L1033.33 1602.33L1038.27 1602.66L1043.21 1602.97L1048.15 1603.29L1053.1 1603.6L1058.04 1603.9L1062.98 1604.2L1067.92 1604.5L1072.86 1604.8L1077.8 1605.09L1082.74 1605.37L1087.69 1605.66L1092.63 1605.94L1097.57 1606.21L1102.51 1606.48L1107.45 1606.75L1112.39 1607.02L1117.33 1607.28L1122.28 1607.54L1127.22 1607.8L1132.16 1608.05L1137.1 1608.3L1142.04 1608.55L1146.98 1608.79L1151.92 1609.04L1156.87 1609.27L1161.81 1609.51L1166.75 1609.74L1171.69 1609.97L1176.63 1610.2L1181.57 1610.42L1186.51 1610.65L1191.46 1610.86L1196.4 1611.08L1201.34 1611.3L1206.28 1611.51L1211.22 1611.72L1216.16 1611.92L1221.1 1612.13L1226.05 1612.33L1230.99 1612.53L1235.93 1612.73L1240.87 1612.92L1245.81 1613.11L1250.75 1613.3L1255.69 1613.49L1260.64 1613.68L1265.58 1613.86L1270.52 1614.04L1275.46 1614.22L1280.4 1614.4L1285.34 1614.58L1290.28 1614.75L1295.23 1614.92L1300.17 1615.09L1305.11 1615.26L1310.05 1615.43L1314.99 1615.59L1319.93 1615.75L1324.87 1615.91L1329.82 1616.07L1334.76 1616.23L1339.7 1616.38L1344.64 1616.54L1349.58 1616.69L1354.52 1616.84L1359.46 1616.99L1364.41 1617.14L1369.35 1617.28L1374.29 1617.43L1379.23 1617.57L1384.17 1617.71L1389.11 1617.85L1394.05 1617.99L1399 1618.12L1403.94 1618.26L1408.88 1618.39L1413.82 1618.52L1418.76 1618.65L1423.7 1618.78L1428.64 1618.91L1433.59 1619.03L1438.53 1619.16L1443.47 1619.28L1448.41 1619.41L1453.35 1619.53L1458.29 1619.65L1463.23 1619.77L1468.18 1619.88L1473.12 1620L1478.06 1620.11L1483 1620.23" fill="none" stroke="#000" stroke-width="3.4" stroke-linejoin="round"/>
<path d="M96.25 1273.55a3.15 3.15 0 1 0 6.3 0a3.15 3.15 0 1 0 -6.3 0zM116.02 1300.99a3.15 3.15 0 1 0 6.3 0a3.15 3.15 0 1 0 -6.3 0zM135.78 1325.86a3.15 3.15 0 1 0 6.3 0a3.15 3.15 0 1 0 -6.3 0zM155.55 1348.45a3.15 3.15 0 1 0 6.3 0a3.15 3.15 0 1 0 -6.3 0zM175.31 1369.01a3.15 3.15 0 1 0 6.3 0a3.15 3.15 0 1 0 -6.3 0zM195.08 1387.75a3.15 3.15 0 1 0 6.3 0a3.15 3.15 0 1 0 -6.3 0zM214.84 1404.86a3.15 3.15 0 1 0 6.3 0a3.15 3.15 0 1 0 -6.3 0zM234.61 1420.5a3.15 3.15 0 1 0 6.3 0a3.15 3.15 0 1 0 -6.3 0zM254.38 1434.84a3.15 3.15 0 1 0 6.3 0a3.15 3.15 0 1 0 -6.3 0zM274.14 1447.99a3.15 3.15 0 1 0 6.3 0a3.15 3.15 0 1 0 -6.3 0zM293.91 1460.07a3.15 3.15 0 1 0 6.3 0a3.15 3.15 0 1 0 -6.3 0zM313.67 1471.18a3.15 3.15 0 1 0 6.3 0a3.15 3.15 0 1 0 -6.3 0zM333.44 1481.42a3.15 3.15 0 1 0 6.3 0a3.15 3.15 0 1 0 -6.3 0zM353.2 1490.87a3.15 3.15 0 1 0 6.3 0a3.15 3.15 0 1 0 -6.3 0zM372.97 1499.6a3.15 3.15 0 1 0 6.3 0a3.15 3.15 0 1 0 -6.3 0zM392.74 1507.67a3.15 3.15 0 1 0 6.3 0a3.15 3.15 0 1 0 -6.3 0zM412.5 1515.14a3.15 3.15 0 1 0 6.3 0a3.15 3.15 0 1 0 -6.3 0zM432.27 1522.07a3.15 3.15 0 1 0 6.3 0a3.15 3.15 0 1 0 -6.3 0zM452.03 1528.5a3.15 3.15 0 1 0 6.3 0a3.15 3.15 0 1 0 -6.3 0zM471.8 1534.47a3.15 3.15 0 1 0 6.3 0a3.15 3.15 0 1 0 -6.3 0zM491.56 1540.02a3.15 3.15 0 1 0 6.3 0a3.15 3.15 0 1 0 -6.3 0zM511.33 1545.2a3.15 3.15 0 1 0 6.3 0a3.15 3.15 0 1 0 -6.3 0zM531.1 1550.02a3.15 3.15 0 1 0 6.3 0a3.15 3.15 0 1 0 -6.3 0zM550.86 1554.52a3.15 3.15 0 1 0 6.3 0a3.15 3.15 0 1 0 -6.3 0zM570.63 1558.71a3.15 3.15 0 1 0 6.3 0a3.15 3.15 0 1 0 -6.3 0zM590.39 1562.64a3.15 3.15 0 1 0 6.3 0a3.15 3.15 0 1 0 -6.3 0zM610.16 1566.31a3.15 3.15 0 1 0 6.3 0a3.15 3.15 0 1 0 -6.3 0zM629.92 1569.75a3.15 3.15 0 1 0 6.3 0a3.15 3.15 0 1 0 -6.3 0zM649.69 1572.97a3.15 3.15 0 1 0 6.3 0a3.15 3.15 0 1 0 -6.3 0zM669.46 1575.99a3.15 3.15 0 1 0 6.3 0a3.15 3.15 0 1 0 -6.3 0zM689.22 1578.83a3.15 3.15 0 1 0 6.3 0a3.15 3.15 0 1 0 -6.3 0zM708.99 1581.5a3.15 3.15 0 1 0 6.3 0a3.15 3.15 0 1 0 -6.3 0zM728.75 1584a3.15 3.15 0 1 0 6.3 0a3.15 3.15 0 1 0 -6.3 0zM748.52 1586.36a3.15 3.15 0 1 0 6.3 0a3.15 3.15 0 1 0 -6.3 0zM768.28 1588.58a3.15 3.15 0 1 0 6.3 0a3.15 3.15 0 1 0 -6.3 0zM788.05 1590.67a3.15 3.15 0 1 0 6.3 0a3.15 3.15 0 1 0 -6.3 0zM807.82 1592.64a3.15 3.15 0 1 0 6.3 0a3.15 3.15 0 1 0 -6.3 0zM827.58 1594.5a3.15 3.15 0 1 0 6.3 0a3.15 3.15 0 1 0 -6.3 0zM847.35 1596.26a3.15 3.15 0 1 0 6.3 0a3.15 3.15 0 1 0 -6.3 0zM867.11 1597.91a3.15 3.15 0 1 0 6.3 0a3.15 3.15 0 1 0 -6.3 0zM886.88 1599.48a3.15 3.15 0 1 0 6.3 0a3.15 3.15 0 1 0 -6.3 0zM906.64 1600.97a3.15 3.15 0 1 0 6.3 0a3.15 3.15 0 1 0 -6.3 0zM926.41 1602.37a3.15 3.15 0 1 0 6.3 0a3.15 3.15 0 1 0 -6.3 0zM946.18 1603.7a3.15 3.15 0 1 0 6.3 0a3.15 3.15 0 1 0 -6.3 0zM965.94 1604.96a3.15 3.15 0 1 0 6.3 0a3.15 3.15 0 1 0 -6.3 0zM985.71 1606.16a3.15 3.15 0 1 0 6.3 0a3.15 3.15 0 1 0 -6.3 0zM1005.47 1607.29a3.15 3.15 0 1 0 6.3 0a3.15 3.15 0 1 0 -6.3 0zM1025.24 1608.37a3.15 3.15 0 1 0 6.3 0a3.15 3.15 0 1 0 -6.3 0zM1045 1609.39a3.15 3.15 0 1 0 6.3 0a3.15 3.15 0 1 0 -6.3 0zM1064.77 1610.36a3.15 3.15 0 1 0 6.3 0a3.15 3.15 0 1 0 -6.3 0zM1084.54 1611.28a3.15 3.15 0 1 0 6.3 0a3.15 3.15 0 1 0 -6.3 0zM1104.3 1612.16a3.15 3.15 0 1 0 6.3 0a3.15 3.15 0 1 0 -6.3 0zM1124.07 1613a3.15 3.15 0 1 0 6.3 0a3.15 3.15 0 1 0 -6.3 0zM1143.83 1613.8a3.15 3.15 0 1 0 6.3 0a3.15 3.15 0 1 0 -6.3 0zM1163.6 1614.55a3.15 3.15 0 1 0 6.3 0a3.15 3.15 0 1 0 -6.3 0zM1183.36 1615.28a3.15 3.15 0 1 0 6.3 0a3.15 3.15 0 1 0 -6.3 0zM1203.13 1615.97a3.15 3.15 0 1 0 6.3 0a3.15 3.15 0 1 0 -6.3 0zM1222.9 1616.62a3.15 3.15 0 1 0 6.3 0a3.15 3.15 0 1 0 -6.3 0zM1242.66 1617.25a3.15 3.15 0 1 0 6.3 0a3.15 3.15 0 1 0 -6.3 0zM1262.43 1617.85a3.15 3.15 0 1 0 6.3 0a3.15 3.15 0 1 0 -6.3 0zM1282.19 1618.42a3.15 3.15 0 1 0 6.3 0a3.15 3.15 0 1 0 -6.3 0zM1301.96 1618.97a3.15 3.15 0 1 0 6.3 0a3.15 3.15 0 1 0 -6.3 0zM1321.72 1619.49a3.15 3.15 0 1 0 6.3 0a3.15 3.15 0 1 0 -6.3 0zM1341.49 1619.99a3.15 3.15 0 1 0 6.3 0a3.15 3.15 0 1 0 -6.3 0zM1361.26 1620.47a3.15 3.15 0 1 0 6.3 0a3.15 3.15 0 1 0 -6.3 0zM1381.02 1620.93a3.15 3.15 0 1 0 6.3 0a3.15 3.15 0 1 0 -6.3 0zM1400.79 1621.36a3.15 3.15 0 1 0 6.3 0a3.15 3.15 0 1 0 -6.3 0zM1420.55 1621.78a3.15 3.15 0 1 0 6.3 0a3.15 3.15 0 1 0 -6.3 0zM1440.32 1622.19a3.15 3.15 0 1 0 6.3 0a3.15 3.15 0 1 0 -6.3 0zM1460.08 1622.57a3.15 3.15 0 1 0 6.3 0a3.15 3.15 0 1 0 -6.3 0zM1479.85 1622.94a3.15 3.15 0 1 0 6.3 0a3.15 3.15 0 1 0 -6.3 0z" fill="#000"/>
<path d="M92.1 1363.61h14.6M99.4 1356.31v14.6M111.87 1384.19h14.6M119.17 1376.89v14.6M131.63 1402.84h14.6M138.93 1395.54v14.6M151.4 1419.79h14.6M158.7 1412.49v14.6M171.16 1435.21h14.6M178.46 1427.91v14.6M190.93 1449.26h14.6M198.23 1441.96v14.6M210.69 1462.09h14.6M217.99 1454.79v14.6M230.46 1473.83h14.6M237.76 1466.53v14.6M250.23 1484.58h14.6M257.53 1477.28v14.6M269.99 1494.44h14.6M277.29 1487.14v14.6M289.76 1503.5h14.6M297.06 1496.2v14.6M309.52 1511.84h14.6M316.82 1504.54v14.6M329.29 1519.52h14.6M336.59 1512.22v14.6M349.05 1526.6h14.6M356.35 1519.3v14.6M368.82 1533.15h14.6M376.12 1525.85v14.6M388.59 1539.2h14.6M395.89 1531.9v14.6M408.35 1544.8h14.6M415.65 1537.5v14.6M428.12 1550h14.6M435.42 1542.7v14.6M447.88 1554.82h14.6M455.18 1547.52v14.6M467.65 1559.3h14.6M474.95 1552v14.6M487.41 1563.47h14.6M494.71 1556.17v14.6M507.18 1567.35h14.6M514.48 1560.05v14.6M526.95 1570.96h14.6M534.25 1563.66v14.6M546.71 1574.34h14.6M554.01 1567.04v14.6M566.48 1577.49h14.6M573.78 1570.19v14.6M586.24 1580.43h14.6M593.54 1573.13v14.6M606.01 1583.18h14.6M613.31 1575.88v14.6M625.77 1585.76h14.6M633.07 1578.46v14.6M645.54 1588.18h14.6M652.84 1580.88v14.6M665.31 1590.45h14.6M672.61 1583.15v14.6M685.07 1592.57h14.6M692.37 1585.27v14.6M704.84 1594.57h14.6M712.14 1587.27v14.6M724.6 1596.45h14.6M731.9 1589.15v14.6M744.37 1598.22h14.6M751.67 1590.92v14.6M764.13 1599.88h14.6M771.43 1592.58v14.6M783.9 1601.45h14.6M791.2 1594.15v14.6M803.67 1602.93h14.6M810.97 1595.63v14.6M823.43 1604.32h14.6M830.73 1597.02v14.6M843.2 1605.64h14.6M850.5 1598.34v14.6M862.96 1606.89h14.6M870.26 1599.59v14.6M882.73 1608.06h14.6M890.03 1600.76v14.6M902.49 1609.17h14.6M909.79 1601.87v14.6M922.26 1610.23h14.6M929.56 1602.93v14.6M942.03 1611.23h14.6M949.33 1603.93v14.6M961.79 1612.17h14.6M969.09 1604.87v14.6M981.56 1613.07h14.6M988.86 1605.77v14.6M1001.32 1613.92h14.6M1008.62 1606.62v14.6M1021.09 1614.73h14.6M1028.39 1607.43v14.6M1040.85 1615.49h14.6M1048.15 1608.19v14.6M1060.62 1616.22h14.6M1067.92 1608.92v14.6M1080.39 1616.91h14.6M1087.69 1609.61v14.6M1100.15 1617.57h14.6M1107.45 1610.27v14.6M1119.92 1618.2h14.6M1127.22 1610.9v14.6M1139.68 1618.8h14.6M1146.98 1611.5v14.6M1159.45 1619.37h14.6M1166.75 1612.07v14.6M1179.21 1619.91h14.6M1186.51 1612.61v14.6M1198.98 1620.42h14.6M1206.28 1613.12v14.6M1218.75 1620.92h14.6M1226.05 1613.62v14.6M1238.51 1621.39h14.6M1245.81 1614.09v14.6M1258.28 1621.84h14.6M1265.58 1614.54v14.6M1278.04 1622.27h14.6M1285.34 1614.97v14.6M1297.81 1622.68h14.6M1305.11 1615.38v14.6M1317.57 1623.07h14.6M1324.87 1615.77v14.6M1337.34 1623.44h14.6M1344.64 1616.14v14.6M1357.11 1623.8h14.6M1364.41 1616.5v14.6M1376.87 1624.15h14.6M1384.17 1616.85v14.6M1396.64 1624.47h14.6M1403.94 1617.17v14.6M1416.4 1624.79h14.6M1423.7 1617.49v14.6M1436.17 1625.09h14.6M1443.47 1617.79v14.6M1455.93 1625.38h14.6M1463.23 1618.08v14.6M1475.7 1625.66h14.6M1483 1618.36v14.6" fill="none" stroke="#000" stroke-width="3.45" stroke-linecap="round"/>
<path d="M92.65 1453.68a6.75 6.75 0 1 0 13.5 0a6.75 6.75 0 1 0 -13.5 0zM112.42 1467.39a6.75 6.75 0 1 0 13.5 0a6.75 6.75 0 1 0 -13.5 0zM132.18 1479.83a6.75 6.75 0 1 0 13.5 0a6.75 6.75 0 1 0 -13.5 0zM151.95 1491.12a6.75 6.75 0 1 0 13.5 0a6.75 6.75 0 1 0 -13.5 0zM171.71 1501.4a6.75 6.75 0 1 0 13.5 0a6.75 6.75 0 1 0 -13.5 0zM191.48 1510.77a6.75 6.75 0 1 0 13.5 0a6.75 6.75 0 1 0 -13.5 0zM211.24 1519.33a6.75 6.75 0 1 0 13.5 0a6.75 6.75 0 1 0 -13.5 0zM231.01 1527.15a6.75 6.75 0 1 0 13.5 0a6.75 6.75 0 1 0 -13.5 0zM250.78 1534.32a6.75 6.75 0 1 0 13.5 0a6.75 6.75 0 1 0 -13.5 0zM270.54 1540.89a6.75 6.75 0 1 0 13.5 0a6.75 6.75 0 1 0 -13.5 0zM290.31 1546.93a6.75 6.75 0 1 0 13.5 0a6.75 6.75 0 1 0 -13.5 0zM310.07 1552.49a6.75 6.75 0 1 0 13.5 0a6.75 6.75 0 1 0 -13.5 0zM329.84 1557.61a6.75 6.75 0 1 0 13.5 0a6.75 6.75 0 1 0 -13.5 0zM349.6 1562.34a6.75 6.75 0 1 0 13.5 0a6.75 6.75 0 1 0 -13.5 0zM369.37 1566.7a6.75 6.75 0 1 0 13.5 0a6.75 6.75 0 1 0 -13.5 0zM389.14 1570.73a6.75 6.75 0 1 0 13.5 0a6.75 6.75 0 1 0 -13.5 0zM408.9 1574.47a6.75 6.75 0 1 0 13.5 0a6.75 6.75 0 1 0 -13.5 0zM428.67 1577.93a6.75 6.75 0 1 0 13.5 0a6.75 6.75 0 1 0 -13.5 0zM448.43 1581.15a6.75 6.75 0 1 0 13.5 0a6.75 6.75 0 1 0 -13.5 0zM468.2 1584.13a6.75 6.75 0 1 0 13.5 0a6.75 6.75 0 1 0 -13.5 0zM487.96 1586.91a6.75 6.75 0 1 0 13.5 0a6.75 6.75 0 1 0 -13.5 0zM507.73 1589.5a6.75 6.75 0 1 0 13.5 0a6.75 6.75 0 1 0 -13.5 0zM527.5 1591.91a6.75 6.75 0 1 0 13.5 0a6.75 6.75 0 1 0 -13.5 0zM547.26 1594.16a6.75 6.75 0 1 0 13.5 0a6.75 6.75 0 1 0 -13.5 0zM567.03 1596.26a6.75 6.75 0 1 0 13.5 0a6.75 6.75 0 1 0 -13.5 0zM586.79 1598.22a6.75 6.75 0 1 0 13.5 0a6.75 6.75 0 1 0 -13.5 0zM606.56 1600.06a6.75 6.75 0 1 0 13.5 0a6.75 6.75 0 1 0 -13.5 0zM626.32 1601.78a6.75 6.75 0 1 0 13.5 0a6.75 6.75 0 1 0 -13.5 0zM646.09 1603.39a6.75 6.75 0 1 0 13.5 0a6.75 6.75 0 1 0 -13.5 0zM665.86 1604.9a6.75 6.75 0 1 0 13.5 0a6.75 6.75 0 1 0 -13.5 0zM685.62 1606.32a6.75 6.75 0 1 0 13.5 0a6.75 6.75 0 1 0 -13.5 0zM705.39 1607.65a6.75 6.75 0 1 0 13.5 0a6.75 6.75 0 1 0 -13.5 0zM725.15 1608.9a6.75 6.75 0 1 0 13.5 0a6.75 6.75 0 1 0 -13.5 0zM744.92 1610.08a6.75 6.75 0 1 0 13.5 0a6.75 6.75 0 1 0 -13.5 0zM764.68 1611.19a6.75 6.75 0 1 0 13.5 0a6.75 6.75 0 1 0 -13.5 0zM784.45 1612.23a6.75 6.75 0 1 0 13.5 0a6.75 6.75 0 1 0 -13.5 0zM804.22 1613.22a6.75 6.75 0 1 0 13.5 0a6.75 6.75 0 1 0 -13.5 0zM823.98 1614.15a6.75 6.75 0 1 0 13.5 0a6.75 6.75 0 1 0 -13.5 0zM843.75 1615.03a6.75 6.75 0 1 0 13.5 0a6.75 6.75 0 1 0 -13.5 0zM863.51 1615.86a6.75 6.75 0 1 0 13.5 0a6.75 6.75 0 1 0 -13.5 0zM883.28 1616.64a6.75 6.75 0 1 0 13.5 0a6.75 6.75 0 1 0 -13.5 0zM903.04 1617.38a6.75 6.75 0 1 0 13.5 0a6.75 6.75 0 1 0 -13.5 0zM922.81 1618.09a6.75 6.75 0 1 0 13.5 0a6.75 6.75 0 1 0 -13.5 0zM942.58 1618.75a6.75 6.75 0 1 0 13.5 0a6.75 6.75 0 1 0 -13.5 0zM962.34 1619.38a6.75 6.75 0 1 0 13.5 0a6.75 6.75 0 1 0 -13.5 0zM982.11 1619.98a6.75 6.75 0 1 0 13.5 0a6.75 6.75 0 1 0 -13.5 0zM1001.87 1620.55a6.75 6.75 0 1 0 13.5 0a6.75 6.75 0 1 0 -13.5 0zM1021.64 1621.08a6.75 6.75 0 1 0 13.5 0a6.75 6.75 0 1 0 -13.5 0zM1041.4 1621.59a6.75 6.75 0 1 0 13.5 0a6.75 6.75 0 1 0 -13.5 0zM1061.17 1622.08a6.75 6.75 0 1 0 13.5 0a6.75 6.75 0 1 0 -13.5 0zM1080.94 1622.54a6.75 6.75 0 1 0 13.5 0a6.75 6.75 0 1 0 -13.5 0zM1100.7 1622.98a6.75 6.75 0 1 0 13.5 0a6.75 6.75 0 1 0 -13.5 0zM1120.47 1623.4a6.75 6.75 0 1 0 13.5 0a6.75 6.75 0 1 0 -13.5 0zM1140.23 1623.8a6.75 6.75 0 1 0 13.5 0a6.75 6.75 0 1 0 -13.5 0zM1160 1624.18a6.75 6.75 0 1 0 13.5 0a6.75 6.75 0 1 0 -13.5 0zM1179.76 1624.54a6.75 6.75 0 1 0 13.5 0a6.75 6.75 0 1 0 -13.5 0zM1199.53 1624.88a6.75 6.75 0 1 0 13.5 0a6.75 6.75 0 1 0 -13.5 0zM1219.3 1625.21a6.75 6.75 0 1 0 13.5 0a6.75 6.75 0 1 0 -13.5 0zM1239.06 1625.53a6.75 6.75 0 1 0 13.5 0a6.75 6.75 0 1 0 -13.5 0zM1258.83 1625.82a6.75 6.75 0 1 0 13.5 0a6.75 6.75 0 1 0 -13.5 0zM1278.59 1626.11a6.75 6.75 0 1 0 13.5 0a6.75 6.75 0 1 0 -13.5 0zM1298.36 1626.38a6.75 6.75 0 1 0 13.5 0a6.75 6.75 0 1 0 -13.5 0zM1318.12 1626.65a6.75 6.75 0 1 0 13.5 0a6.75 6.75 0 1 0 -13.5 0zM1337.89 1626.9a6.75 6.75 0 1 0 13.5 0a6.75 6.75 0 1 0 -13.5 0zM1357.66 1627.13a6.75 6.75 0 1 0 13.5 0a6.75 6.75 0 1 0 -13.5 0zM1377.42 1627.36a6.75 6.75 0 1 0 13.5 0a6.75 6.75 0 1 0 -13.5 0zM1397.19 1627.58a6.75 6.75 0 1 0 13.5 0a6.75 6.75 0 1 0 -13.5 0zM1416.95 1627.79a6.75 6.75 0 1 0 13.5 0a6.75 6.75 0 1 0 -13.5 0zM1436.72 1627.99a6.75 6.75 0 1 0 13.5 0a6.75 6.75 0 1 0 -13.5 0zM1456.48 1628.19a6.75 6.75 0 1 0 13.5 0a6.75 6.75 0 1 0 -13.5 0zM1476.25 1628.37a6.75 6.75 0 1 0 13.5 0a6.75 6.75 0 1 0 -13.5 0z" fill="none" stroke="#000" stroke-width="3.6"/>
<path d="M94.5 1538.84l9.8 9.8M94.5 1548.64l9.8 -9.8M114.27 1545.7l9.8 9.8M114.27 1555.5l9.8 -9.8M134.03 1551.91l9.8 9.8M134.03 1561.71l9.8 -9.8M153.8 1557.56l9.8 9.8M153.8 1567.36l9.8 -9.8M173.56 1562.7l9.8 9.8M173.56 1572.5l9.8 -9.8M193.33 1567.39l9.8 9.8M193.33 1577.19l9.8 -9.8M213.09 1571.66l9.8 9.8M213.09 1581.46l9.8 -9.8M232.86 1575.58l9.8 9.8M232.86 1585.38l9.8 -9.8M252.63 1579.16l9.8 9.8M252.63 1588.96l9.8 -9.8M272.39 1582.45l9.8 9.8M272.39 1592.25l9.8 -9.8M292.16 1585.47l9.8 9.8M292.16 1595.27l9.8 -9.8M311.92 1588.25l9.8 9.8M311.92 1598.05l9.8 -9.8M331.69 1590.81l9.8 9.8M331.69 1600.61l9.8 -9.8M351.45 1593.17l9.8 9.8M351.45 1602.97l9.8 -9.8M371.22 1595.35l9.8 9.8M371.22 1605.15l9.8 -9.8M390.99 1597.37l9.8 9.8M390.99 1607.17l9.8 -9.8M410.75 1599.23l9.8 9.8M410.75 1609.03l9.8 -9.8M430.52 1600.97l9.8 9.8M430.52 1610.77l9.8 -9.8M450.28 1602.57l9.8 9.8M450.28 1612.37l9.8 -9.8M470.05 1604.07l9.8 9.8M470.05 1613.87l9.8 -9.8M489.81 1605.46l9.8 9.8M489.81 1615.26l9.8 -9.8M509.58 1606.75l9.8 9.8M509.58 1616.55l9.8 -9.8M529.35 1607.95l9.8 9.8M529.35 1617.75l9.8 -9.8M549.11 1609.08l9.8 9.8M549.11 1618.88l9.8 -9.8M568.88 1610.13l9.8 9.8M568.88 1619.93l9.8 -9.8M588.64 1611.11l9.8 9.8M588.64 1620.91l9.8 -9.8M608.41 1612.03l9.8 9.8M608.41 1621.83l9.8 -9.8M628.17 1612.89l9.8 9.8M628.17 1622.69l9.8 -9.8M647.94 1613.69l9.8 9.8M647.94 1623.49l9.8 -9.8M667.71 1614.45l9.8 9.8M667.71 1624.25l9.8 -9.8M687.47 1615.16l9.8 9.8M687.47 1624.96l9.8 -9.8M707.24 1615.82l9.8 9.8M707.24 1625.62l9.8 -9.8M727 1616.45l9.8 9.8M727 1626.25l9.8 -9.8M746.77 1617.04l9.8 9.8M746.77 1626.84l9.8 -9.8M766.53 1617.59l9.8 9.8M766.53 1627.39l9.8 -9.8M786.3 1618.12l9.8 9.8M786.3 1627.92l9.8 -9.8M806.07 1618.61l9.8 9.8M806.07 1628.41l9.8 -9.8M825.83 1619.07l9.8 9.8M825.83 1628.87l9.8 -9.8M845.6 1619.51l9.8 9.8M845.6 1629.31l9.8 -9.8M865.36 1619.93l9.8 9.8M865.36 1629.73l9.8 -9.8M885.13 1620.32l9.8 9.8M885.13 1630.12l9.8 -9.8M904.89 1620.69l9.8 9.8M904.89 1630.49l9.8 -9.8M924.66 1621.04l9.8 9.8M924.66 1630.84l9.8 -9.8M944.43 1621.38l9.8 9.8M944.43 1631.18l9.8 -9.8M964.19 1621.69l9.8 9.8M964.19 1631.49l9.8 -9.8M983.96 1621.99l9.8 9.8M983.96 1631.79l9.8 -9.8M1003.72 1622.27l9.8 9.8M1003.72 1632.07l9.8 -9.8M1023.49 1622.54l9.8 9.8M1023.49 1632.34l9.8 -9.8M1043.25 1622.8l9.8 9.8M1043.25 1632.6l9.8 -9.8M1063.02 1623.04l9.8 9.8M1063.02 1632.84l9.8 -9.8M1082.79 1623.27l9.8 9.8M1082.79 1633.07l9.8 -9.8M1102.55 1623.49l9.8 9.8M1102.55 1633.29l9.8 -9.8M1122.32 1623.7l9.8 9.8M1122.32 1633.5l9.8 -9.8M1142.08 1623.9l9.8 9.8M1142.08 1633.7l9.8 -9.8M1161.85 1624.09l9.8 9.8M1161.85 1633.89l9.8 -9.8M1181.61 1624.27l9.8 9.8M1181.61 1634.07l9.8 -9.8M1201.38 1624.44l9.8 9.8M1201.38 1634.24l9.8 -9.8M1221.15 1624.61l9.8 9.8M1221.15 1634.41l9.8 -9.8M1240.91 1624.76l9.8 9.8M1240.91 1634.56l9.8 -9.8M1260.68 1624.91l9.8 9.8M1260.68 1634.71l9.8 -9.8M1280.44 1625.06l9.8 9.8M1280.44 1634.86l9.8 -9.8M1300.21 1625.19l9.8 9.8M1300.21 1634.99l9.8 -9.8M1319.97 1625.32l9.8 9.8M1319.97 1635.12l9.8 -9.8M1339.74 1625.45l9.8 9.8M1339.74 1635.25l9.8 -9.8M1359.51 1625.57l9.8 9.8M1359.51 1635.37l9.8 -9.8M1379.27 1625.68l9.8 9.8M1379.27 1635.48l9.8 -9.8M1399.04 1625.79l9.8 9.8M1399.04 1635.59l9.8 -9.8M1418.8 1625.9l9.8 9.8M1418.8 1635.7l9.8 -9.8M1438.57 1626l9.8 9.8M1438.57 1635.8l9.8 -9.8M1458.33 1626.09l9.8 9.8M1458.33 1635.89l9.8 -9.8M1478.1 1626.19l9.8 9.8M1478.1 1635.99l9.8 -9.8" fill="none" stroke="#000" stroke-width="3.1" stroke-linecap="round"/>
<rect x="1139.2" y="1191" width="324.6" height="203.5" fill="#fff" stroke="#484848" stroke-width="1.7"/>
<path d="M1148.4 1213.1L1220 1213.1" fill="none" stroke="#000" stroke-width="3.4" stroke-linejoin="round"/>
<text x="1225" y="1225.4" font-size="31.25" text-anchor="start" class="k">length = 10 mm</text>
<path d="M1180.85 1252.9a3.15 3.15 0 1 0 6.3 0a3.15 3.15 0 1 0 -6.3 0z" fill="#000"/>
<text x="1225" y="1264.7" font-size="31.25" text-anchor="start" class="k">length = 8 mm</text>
<path d="M1176.7 1293h14.6M1184 1285.7v14.6" fill="none" stroke="#000" stroke-width="3.45" stroke-linecap="round"/>
<text x="1225" y="1303.9" font-size="31.25" text-anchor="start" class="k">length = 6 mm</text>
<path d="M1177.25 1332.2a6.75 6.75 0 1 0 13.5 0a6.75 6.75 0 1 0 -13.5 0z" fill="none" stroke="#000" stroke-width="3.6"/>
<text x="1225" y="1343.1" font-size="31.25" text-anchor="start" class="k">length = 4 mm</text>
<path d="M1179.1 1365.1l9.8 9.8M1179.1 1374.9l9.8 -9.8" fill="none" stroke="#000" stroke-width="3.1" stroke-linecap="round"/>
<text x="1225" y="1382.2" font-size="31.25" text-anchor="start" class="k">length = 2 mm</text>
</g>
</svg>
</body></html>
